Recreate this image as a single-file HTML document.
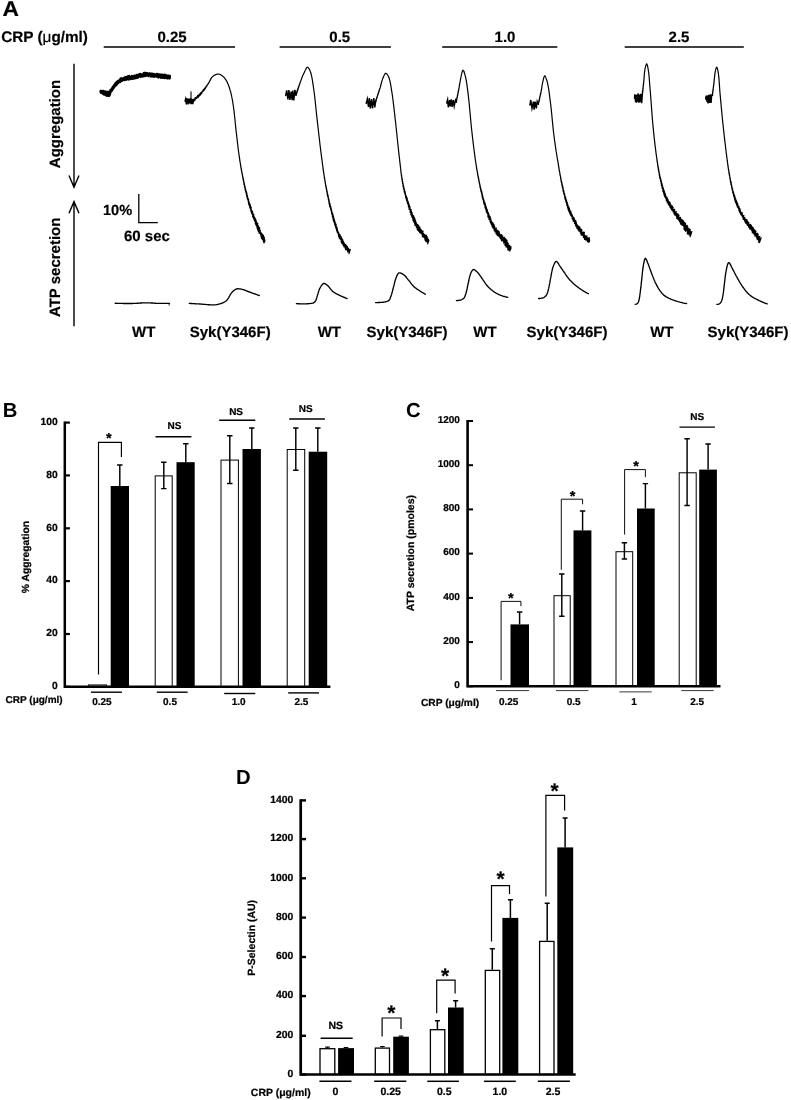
<!DOCTYPE html>
<html><head><meta charset="utf-8"><title>Figure</title>
<style>
html,body{margin:0;padding:0;background:#fff;}
svg{display:block;}
.sm text{stroke:#000;stroke-width:0.22px;}
.sm text.big{stroke:none;}
.pa text{stroke:#000;stroke-width:0.18px;}
text{font-family:"Liberation Sans",sans-serif;font-weight:bold;fill:#000;text-rendering:geometricPrecision;}
</style></head><body>
<svg width="791" height="1100" viewBox="0 0 791 1100">
<rect width="791" height="1100" fill="#fff"/>
<g id="panelA" class="pa">
<text class="big" transform="translate(2.6,16.2) scale(1.07,1)" font-size="21.3">A</text>
<text x="1.2" y="41.7" font-size="15.3" text-anchor="start" >CRP (<tspan font-weight="normal">μ</tspan>g/ml)</text>
<text x="172.0" y="41.7" font-size="15" text-anchor="middle" >0.25</text>
<line x1="103.7" y1="47.0" x2="235.0" y2="47.0" stroke="#000" stroke-width="1.4"/>
<text x="339.8" y="41.7" font-size="15" text-anchor="middle" >0.5</text>
<line x1="279.6" y1="47.0" x2="390.9" y2="47.0" stroke="#000" stroke-width="1.4"/>
<text x="505.0" y="41.7" font-size="15" text-anchor="middle" >1.0</text>
<line x1="442.2" y1="47.0" x2="557.3" y2="47.0" stroke="#000" stroke-width="1.4"/>
<text x="679.0" y="41.7" font-size="15" text-anchor="middle" >2.5</text>
<line x1="624.7" y1="47.0" x2="743.8" y2="47.0" stroke="#000" stroke-width="1.4"/>
<path d="M74,63.7 V187 M69,175.5 L74,187.3 L79,175.5" stroke="#000" stroke-width="1.4" fill="none"/>
<path d="M74,326.3 V202 M69,213.3 L74,201.6 L79,213.3" stroke="#000" stroke-width="1.4" fill="none"/>
<text transform="translate(59.8,124.0) rotate(-90)" font-size="15" text-anchor="middle" >Aggregation</text>
<text transform="translate(59.8,267.3) rotate(-90)" font-size="15" text-anchor="middle" >ATP secretion</text>
<text x="103.0" y="214.5" font-size="14.6" text-anchor="start" >10%</text>
<text x="124.0" y="240.9" font-size="15" text-anchor="start" >60 sec</text>
<path d="M138.8,194 V222.7 H157.8" stroke="#000" stroke-width="1.3" fill="none"/>
<text x="143.7" y="337.3" font-size="15" text-anchor="middle" >WT</text>
<text x="230.2" y="337.3" font-size="15" text-anchor="middle" >Syk(Y346F)</text>
<text x="329.3" y="337.3" font-size="15" text-anchor="middle" >WT</text>
<text x="407.0" y="337.3" font-size="15" text-anchor="middle" >Syk(Y346F)</text>
<text x="484.9" y="337.3" font-size="15" text-anchor="middle" >WT</text>
<text x="567.0" y="337.3" font-size="15" text-anchor="middle" >Syk(Y346F)</text>
<text x="661.8" y="337.3" font-size="15" text-anchor="middle" >WT</text>
<text x="748.0" y="337.3" font-size="15" text-anchor="middle" >Syk(Y346F)</text>
<g fill="none" stroke="#000" stroke-linejoin="round" stroke-linecap="round">
<path d="M100.1,92.1 L100.3,90.5 L100.4,92.5 L100.6,90.6 L100.7,93.2 L100.9,90.8 L101.1,92.9 L101.2,91.4 L101.4,92.8 L101.6,91.0 L101.7,93.4 L101.9,90.6 L102.0,93.2 L102.2,91.6 L102.4,93.2 L102.5,90.6 L102.7,93.3 L102.9,91.2 L103.0,94.4 L103.2,91.9 L103.3,94.1 L103.5,90.6 L103.7,93.7 L103.8,91.2 L104.0,94.9 L104.2,91.9 L104.3,94.5 L104.5,91.0 L104.7,94.9 L104.8,91.5 L105.0,94.3 L105.2,91.6 L105.3,94.7 L105.5,91.7 L105.7,94.9 L105.9,91.0 L106.0,95.9 L106.2,92.1 L106.4,95.7 L106.6,92.3 L106.7,95.6 L106.9,92.2 L107.1,96.2 L107.2,92.2 L107.4,95.8 L107.5,91.6 L107.7,95.8 L107.8,91.3 L108.0,95.4 L108.1,91.6 L108.2,95.9 L108.4,92.3 L108.5,96.3 L108.6,92.1 L108.7,95.8 L108.8,93.0 L109.0,95.0 L109.1,91.4 L109.2,95.7 L109.3,91.2 L109.4,96.3 L109.5,91.0 L109.6,94.2 L109.7,91.5 L109.8,95.0 L109.9,91.3 L110.0,95.5 L110.1,89.5 L110.2,94.9 L110.3,90.1 L110.4,94.5 L110.5,90.5 L110.6,93.0 L110.7,89.4 L110.8,92.9 L110.9,89.6 L111.0,91.6 L111.1,89.5 L111.2,91.6 L111.3,89.2 L111.4,91.0 L111.5,88.8 L111.6,91.2 L111.7,88.0 L111.8,91.4 L111.9,88.1 L112.0,90.6 L112.1,87.4 L112.2,91.0 L112.3,87.3 L112.4,90.6 L112.5,86.6 L112.6,89.2 L112.7,86.4 L112.8,89.2 L112.8,86.7 L112.9,89.7 L113.0,86.1 L113.1,88.5 L113.2,85.9 L113.3,88.1 L113.4,86.1 L113.5,88.9 L113.6,85.7 L113.7,88.3 L113.8,85.0 L113.9,88.4 L114.0,84.6 L114.1,86.9 L114.2,84.9 L114.3,87.3 L114.4,85.1 L114.5,87.1 L114.6,84.0 L114.7,87.3 L114.8,83.3 L114.9,86.0 L115.0,84.1 L115.1,86.5 L115.2,84.0 L115.3,85.6 L115.5,83.1 L115.6,85.3 L115.7,82.5 L115.8,86.0 L115.9,83.3 L116.0,85.3 L116.1,82.0 L116.3,85.7 L116.4,82.5 L116.5,84.3 L116.6,81.4 L116.7,85.1 L116.9,82.1 L117.0,84.2 L117.1,81.1 L117.2,84.6 L117.4,81.7 L117.5,84.1 L117.6,80.5 L117.7,83.7 L117.9,81.2 L118.0,82.7 L118.1,80.8 L118.3,83.6 L118.4,81.0 L118.5,82.2 L118.6,80.3 L118.8,82.1 L118.9,80.4 L119.0,81.8 L119.2,79.7 L119.3,82.6 L119.5,79.6 L119.6,81.6 L119.7,79.6 L119.9,82.1 L120.0,78.5 L120.2,82.5 L120.3,79.3 L120.5,80.8 L120.6,78.3 L120.8,82.0 L120.9,78.6 L121.1,81.6 L121.2,77.9 L121.4,81.2 L121.5,77.7 L121.7,80.2 L121.8,78.4 L122.0,80.4 L122.1,78.5 L122.3,81.2 L122.4,78.5 L122.6,80.7 L122.7,78.3 L122.9,80.2 L123.1,77.7 L123.2,79.8 L123.4,77.5 L123.5,80.2 L123.7,77.7 L123.9,80.4 L124.0,77.8 L124.2,79.6 L124.3,77.4 L124.5,79.7 L124.7,77.6 L124.8,80.5 L125.0,76.6 L125.2,79.2 L125.3,77.2 L125.5,79.3 L125.7,77.0 L125.8,79.3 L126.0,76.9 L126.2,80.2 L126.4,77.0 L126.5,79.7 L126.7,76.6 L126.9,79.8 L127.0,77.3 L127.2,79.8 L127.4,76.0 L127.5,79.5 L127.7,76.9 L127.9,79.5 L128.0,76.2 L128.2,79.5 L128.4,77.0 L128.5,79.9 L128.7,75.8 L128.9,79.0 L129.0,76.2 L129.2,78.4 L129.4,75.6 L129.5,79.5 L129.7,76.1 L129.9,79.4 L130.1,76.7 L130.2,78.7 L130.4,76.6 L130.6,79.1 L130.7,76.8 L130.9,79.5 L131.1,76.2 L131.2,78.8 L131.4,76.7 L131.6,79.1 L131.7,75.6 L131.9,79.0 L132.1,76.4 L132.3,79.2 L132.4,76.5 L132.6,79.2 L132.8,75.8 L132.9,78.3 L133.1,75.9 L133.3,78.8 L133.4,76.2 L133.6,79.1 L133.8,75.9 L133.9,79.1 L134.1,75.3 L134.3,77.9 L134.4,75.5 L134.6,78.1 L134.8,75.3 L134.9,78.4 L135.1,75.6 L135.3,78.8 L135.4,76.1 L135.6,78.3 L135.7,75.6 L135.9,77.4 L136.1,74.9 L136.2,78.1 L136.4,74.6 L136.6,78.0 L136.7,75.4 L136.9,78.5 L137.1,75.6 L137.2,77.1 L137.4,74.6 L137.5,77.4 L137.7,75.0 L137.9,78.1 L138.0,75.0 L138.2,78.0 L138.4,74.4 L138.5,77.1 L138.7,75.2 L138.9,76.9 L139.0,73.8 L139.2,77.0 L139.3,74.9 L139.5,76.8 L139.7,73.7 L139.8,76.5 L140.0,73.8 L140.2,76.4 L140.3,73.5 L140.5,76.9 L140.7,74.7 L140.8,77.4 L141.0,74.2 L141.2,77.0 L141.3,73.9 L141.5,76.0 L141.7,74.4 L141.8,76.0 L142.0,74.2 L142.2,75.8 L142.3,74.3 L142.5,77.0 L142.7,74.2 L142.8,76.3 L143.0,74.0 L143.2,75.8 L143.3,73.0 L143.5,76.7 L143.7,73.4 L143.8,75.3 L144.0,72.5 L144.2,75.3 L144.3,73.4 L144.5,76.0 L144.7,72.6 L144.8,76.4 L145.0,73.0 L145.2,75.7 L145.3,72.6 L145.5,76.4 L145.7,72.6 L145.8,76.2 L146.0,73.7 L146.2,75.6 L146.3,73.2 L146.5,75.9 L146.7,72.7 L146.8,75.5 L147.0,72.9 L147.2,75.7 L147.4,72.8 L147.5,75.5 L147.7,73.3 L147.9,75.4 L148.0,73.7 L148.2,76.6 L148.4,73.5 L148.5,76.6 L148.7,73.3 L148.9,75.4 L149.0,72.9 L149.2,75.4 L149.4,72.9 L149.6,75.4 L149.7,73.1 L149.9,75.7 L150.1,73.7 L150.2,76.8 L150.4,73.5 L150.6,76.5 L150.7,73.2 L150.9,75.7 L151.1,73.0 L151.3,76.9 L151.4,74.1 L151.6,76.4 L151.8,73.9 L151.9,76.7 L152.1,74.3 L152.3,76.4 L152.4,73.2 L152.6,76.8 L152.8,74.3 L152.9,77.0 L153.1,74.1 L153.3,77.0 L153.4,73.8 L153.6,76.0 L153.8,73.5 L154.0,77.0 L154.1,73.6 L154.3,77.3 L154.5,74.3 L154.6,76.3 L154.8,74.5 L155.0,76.8 L155.1,74.2 L155.3,76.6 L155.5,74.1 L155.6,76.5 L155.8,74.8 L156.0,76.8 L156.1,74.5 L156.3,76.8 L156.5,73.6 L156.6,76.5 L156.8,74.0 L157.0,77.2 L157.1,74.6 L157.3,77.0 L157.5,73.6 L157.7,76.9 L157.8,74.1 L158.0,77.6 L158.2,74.6 L158.3,77.9 L158.5,74.3 L158.7,77.2 L158.8,74.2 L159.0,77.1 L159.2,74.2 L159.3,77.0 L159.5,74.0 L159.7,77.4 L159.8,75.0 L160.0,77.3 L160.2,74.1 L160.3,77.9 L160.5,74.7 L160.7,77.3 L160.9,74.9 L161.0,78.2 L161.2,75.4 L161.4,78.1 L161.5,74.3 L161.7,77.2 L161.9,75.1 L162.0,77.7 L162.2,74.5 L162.4,78.3 L162.5,74.2 L162.7,77.4 L162.9,75.5 L163.0,77.7 L163.2,75.0 L163.4,78.0 L163.5,75.7 L163.7,78.0 L163.9,74.5 L164.1,78.5 L164.2,74.5 L164.4,78.5 L164.6,74.5 L164.7,77.3 L164.9,74.6 L165.1,77.6 L165.2,75.5 L165.4,78.0 L165.6,74.6 L165.7,78.2 L165.9,75.6 L166.1,77.9 L166.2,74.8 L166.4,78.6 L166.6,75.9 L166.8,77.8 L166.9,75.6 L167.1,77.8 L167.3,75.4 L167.4,77.8 L167.6,75.4 L167.8,78.9 L167.9,75.0 L168.1,77.7 L168.3,76.0 L168.4,78.2 L168.6,75.4 L168.8,78.2 L168.9,76.0 L169.1,78.1 L169.3,76.1 L169.5,78.9 L169.6,75.4 L169.8,78.3 L170.0,75.4 L170.1,78.5 L170.3,75.7" stroke-width="1.5"/>
<path d="M185.0,101.2 L185.6,99.1 L186.3,104.4 L186.7,98.0 L187.2,103.4 L187.4,98.9 L188.1,104.4 L188.5,98.5 L188.8,103.7 L189.5,98.6 L189.8,103.5 L190.4,98.4 L191.2,104.1 L191.6,98.5 L192.1,104.3 L192.3,99.1 L192.8,104.0 L193.5,100.3" stroke-width="1.4" stroke-linejoin="miter" stroke-miterlimit="6"/>
<path d="M193.6,100.7 L193.6,99.3 L194.2,100.8 L194.2,99.1 L194.8,100.7 L194.7,98.5 L195.2,99.7 L195.1,97.7 L195.6,98.8 L195.6,97.3 L196.2,98.5 L196.2,97.4 L196.8,98.4 L196.7,96.8 L197.2,97.5 L197.2,96.5 L197.7,97.3 L197.6,95.6 L198.3,97.3 L198.2,95.4 L198.8,96.8 L198.6,94.8 L199.2,95.9 L199.2,94.9 L199.7,95.6 L199.6,94.3 L200.0,94.7 L200.0,93.3 L200.6,94.9 L200.5,93.2 L201.0,94.1 L200.9,92.6 L201.5,93.8 L201.4,92.3 L201.9,93.0 L201.9,91.9 L202.2,92.3 L202.2,91.2 L202.6,91.7 L202.7,91.0 L203.1,91.3 L203.0,90.1 L203.5,90.7 L203.4,89.5 L203.9,90.4 L203.9,89.1 L204.4,89.9 L204.4,88.9 L204.7,89.0 L204.7,88.0 L205.2,88.8 L205.2,87.8 L205.5,88.2 L205.6,87.3 L205.8,87.3 L205.9,86.7 L206.2,86.8 L206.3,86.1 L206.7,86.5 L206.7,85.5 L207.0,85.6 L207.1,85.1 L207.4,85.0 L207.5,84.6 L207.8,84.6 L207.8,83.9 L208.1,84.0 L208.2,83.4 L208.5,83.4 L208.6,82.8 L208.9,82.8 L209.0,82.3 L209.2,82.2 L209.3,81.7 L209.5,81.5 L209.6,81.1 L209.9,81.0 L209.9,80.4 L210.2,80.3 L210.3,79.8 L210.5,79.6 L210.6,79.2 L210.8,79.0 L210.9,78.6 L211.2,78.4 L211.3,78.0 L211.5,77.9 L211.7,77.5 L211.9,77.3 L212.1,77.1 L212.3,76.8 L212.5,76.6 L212.7,76.4 L212.9,76.2 L213.2,76.1 L213.4,75.9 L213.7,75.7 L214.0,75.5 L214.3,75.3 L214.6,75.2 L214.9,75.0 L215.2,74.8 L215.6,74.7 L215.9,74.5 L216.2,74.4 L216.6,74.3 L216.9,74.2 L217.2,74.1 L217.5,74.1 L217.9,74.0 L218.2,74.0 L218.5,74.0 L218.8,74.1 L219.1,74.1 L219.4,74.2 L219.7,74.3 L220.1,74.5 L220.4,74.6 L220.7,74.8 L221.0,75.0 L221.3,75.2 L221.6,75.4 L221.9,75.6 L222.2,75.8 L222.5,76.0 L222.7,76.2 L223.0,76.4 L223.2,76.6 L223.4,76.8 L223.6,77.0 L223.9,77.2 L224.1,77.4 L224.3,77.7 L224.5,77.9 L224.7,78.2 L224.9,78.5 L225.1,78.8 L225.3,79.0 L225.5,79.3 L225.7,79.6 L225.9,79.9 L226.1,80.2 L226.3,80.5 L226.5,80.8 L226.6,81.1 L226.8,81.4 L227.0,81.7 L227.1,82.1 L227.3,82.4 L227.4,82.7 L227.6,83.0 L227.7,83.3 L227.8,83.6 L228.0,83.9 L228.1,84.2 L228.2,84.5 L228.3,84.8 L228.4,85.1 L228.6,85.4 L228.7,85.7 L228.8,86.0 L228.9,86.3 L229.0,86.6 L229.1,86.9 L229.2,87.3 L229.3,87.6 L229.4,87.9 L229.5,88.2 L229.6,88.5 L229.7,88.8 L229.8,89.2 L229.9,89.5 L230.0,89.8 L230.1,90.1 L230.2,90.5 L230.3,90.8 L230.4,91.1 L230.5,91.4 L230.6,91.8 L230.7,92.1 L230.8,92.4 L230.8,92.7 L230.9,93.1 L231.0,93.4 L231.1,93.7 L231.2,94.1 L231.2,94.4 L231.3,94.7 L231.4,95.1 L231.5,95.4 L231.5,95.7 L231.6,96.0 L231.7,96.4 L231.8,96.7 L231.8,97.0 L231.9,97.4 L232.0,97.7 L232.0,98.0 L232.1,98.4 L232.2,98.7 L232.2,99.0 L232.3,99.4 L232.3,99.7 L232.4,100.0 L232.5,100.3 L232.5,100.7 L232.6,101.0 L232.6,101.3 L232.7,101.6 L232.7,102.0 L232.8,102.3 L232.8,102.6 L232.9,103.0 L232.9,103.3 L233.0,103.6 L233.0,103.9 L233.1,104.3 L233.1,104.6 L233.2,104.9 L233.2,105.3 L233.3,105.6 L233.3,105.9 L233.4,106.2 L233.4,106.6 L233.5,106.9 L233.5,107.2 L233.6,107.6 L233.6,107.9 L233.6,108.2 L233.7,108.6 L233.7,108.9 L233.8,109.2 L233.8,109.6 L233.9,109.9 L233.9,110.2 L233.9,110.5 L234.0,110.9 L234.0,111.2 L234.1,111.5 L234.1,111.9 L234.1,112.2 L234.2,112.5 L234.2,112.9 L234.2,113.2 L234.3,113.5 L234.3,113.9 L234.4,114.2 L234.4,114.5 L234.4,114.9 L234.5,115.2 L234.5,115.5 L234.5,115.9 L234.6,116.2 L234.6,116.5 L234.6,116.9 L234.7,117.2 L234.7,117.5 L234.8,117.9 L234.8,118.2 L234.8,118.5 L234.9,118.9 L234.9,119.2 L234.9,119.5 L235.0,119.9 L235.0,120.2 L235.0,120.5 L235.1,120.9 L235.1,121.2 L235.1,121.5 L235.2,121.9 L235.2,122.2 L235.2,122.5 L235.3,122.9 L235.3,123.2 L235.3,123.5 L235.4,123.9 L235.4,124.2 L235.4,124.5 L235.5,124.9 L235.5,125.2 L235.5,125.5 L235.6,125.9 L235.6,126.2 L235.6,126.5 L235.7,126.9 L235.7,127.2 L235.7,127.5 L235.8,127.9 L235.8,128.2 L235.8,128.5 L235.9,128.9 L235.9,129.2 L236.0,129.5 L236.0,129.9 L236.0,130.2 L236.1,130.5 L236.1,130.9 L236.1,131.2 L236.2,131.5 L236.2,131.9 L236.3,132.2 L236.3,132.5 L236.3,132.9 L236.4,133.2 L236.4,133.5 L236.5,133.9 L236.5,134.2 L236.5,134.5 L236.6,134.9 L236.6,135.2 L236.7,135.5 L236.7,135.9 L236.7,136.2 L236.8,136.5 L236.8,136.9 L236.8,137.2 L236.9,137.5 L236.9,137.9 L237.0,138.2 L237.0,138.5 L237.0,138.8 L237.1,139.2 L237.1,139.5 L237.2,139.8 L237.2,140.2 L237.2,140.5 L237.3,140.8 L237.3,141.2 L237.3,141.5 L237.4,141.8 L237.4,142.2 L237.5,142.5 L237.5,142.8 L237.5,143.2 L237.6,143.5 L237.6,143.8 L237.7,144.2 L237.7,144.5 L237.7,144.9 L237.8,145.2 L237.8,145.5 L237.9,145.8 L237.9,146.2 L237.9,146.5 L238.0,146.9 L238.0,147.1 L238.0,147.5 L238.1,147.8 L238.1,148.2 L238.2,148.4 L238.2,148.8 L238.3,149.1 L238.3,149.5 L238.3,149.8 L238.4,150.2 L238.4,150.4 L238.4,150.8 L238.5,151.1 L238.5,151.5 L238.6,151.8 L238.6,152.2 L238.7,152.4 L238.7,152.8 L238.8,153.1 L238.8,153.5 L238.9,153.7 L238.9,154.2 L239.0,154.4 L239.0,154.9 L239.1,155.1 L239.1,155.5 L239.2,155.6 L239.2,156.2 L239.3,156.3 L239.3,156.8 L239.4,157.0 L239.3,157.6 L239.5,157.6 L239.5,158.1 L239.6,158.3 L239.5,158.9 L239.7,158.9 L239.6,159.5 L239.8,159.6 L239.7,160.2 L239.8,160.3 L239.8,160.9 L240.0,160.9 L239.9,161.5 L240.1,161.5 L240.1,162.1 L240.2,162.3 L240.2,162.8 L240.3,162.9 L240.3,163.4 L240.4,163.6 L240.4,164.1 L240.5,164.2 L240.5,164.8 L240.7,164.8 L240.5,165.6 L240.7,165.6 L240.7,166.2 L240.9,166.1 L240.8,166.9 L240.9,166.9 L240.9,167.6 L241.1,167.4 L241.0,168.3 L241.2,168.1 L241.1,168.9 L241.3,168.8 L241.3,169.4 L241.4,169.5 L241.3,170.2 L241.6,170.1 L241.4,170.9 L241.7,170.7 L241.6,171.4 L241.8,171.4 L241.7,172.3 L241.9,172.0 L241.9,172.8 L242.1,172.5 L241.9,173.5 L242.2,173.4 L242.1,174.2 L242.3,174.1 L242.2,174.8 L242.5,174.6 L242.3,175.6 L242.6,175.3 L242.5,176.1 L242.7,175.9 L242.6,176.8 L242.8,176.6 L242.7,177.4 L243.0,177.1 L242.9,178.1 L243.0,178.1 L242.9,178.9 L243.3,178.4 L243.1,179.4 L243.3,179.3 L243.2,180.2 L243.6,179.6 L243.4,180.7 L243.6,180.4 L243.5,181.4 L243.8,181.0 L243.6,182.1 L243.9,181.8 L243.7,182.9 L244.1,182.4 L243.9,183.3 L244.2,183.1 L243.9,184.4 L244.4,183.5 L244.1,184.8 L244.5,184.2 L244.4,185.3 L244.6,185.0 L244.4,186.3 L244.7,185.8 L244.5,187.1 L245.0,186.0 L244.7,187.6 L245.1,187.0 L244.9,187.9 L245.2,187.6 L245.0,188.9 L245.4,188.2 L245.1,189.6 L245.5,189.0 L245.2,190.3 L245.8,189.2 L245.4,190.9 L245.8,190.3 L245.7,191.2 L245.9,191.0 L245.9,191.8 L246.3,191.2 L245.9,192.7 L246.4,191.8 L246.2,193.2 L246.5,192.8 L246.2,194.3 L246.8,192.9 L246.5,194.4 L247.0,193.7 L246.6,195.4 L246.9,194.9 L246.7,196.1 L247.2,195.4 L247.0,196.6 L247.5,195.5 L247.0,197.5 L247.5,196.8 L247.2,198.2 L247.6,197.5 L247.3,199.0 L248.0,197.7 L247.6,199.4 L248.0,198.8 L247.9,199.6 L248.3,199.0 L248.0,200.5 L248.6,199.4 L248.2,201.1 L248.7,200.4 L248.4,201.6 L248.9,200.9 L248.4,203.0 L249.0,201.8 L248.6,203.5 L249.1,202.5 L248.7,204.3 L249.4,202.8 L249.2,204.2 L249.7,203.2 L249.1,205.6 L249.7,204.4 L249.6,205.5 L249.9,204.9 L249.6,206.5 L250.4,204.9 L249.7,207.6 L250.4,206.1 L250.2,207.3 L250.7,206.5 L250.2,208.6 L250.7,207.5 L250.4,209.2 L251.2,207.3 L250.7,209.4 L251.2,208.7 L250.7,210.8 L251.3,209.5 L251.1,210.7 L251.5,210.1 L251.1,212.0 L251.7,210.7 L251.6,211.9 L252.1,210.8 L251.5,213.3 L252.4,211.2 L251.9,213.6 L252.7,211.7 L252.2,213.9 L252.7,212.9 L252.3,214.8 L253.0,213.3 L252.6,215.2 L253.1,214.5 L252.5,216.8 L253.4,214.9 L252.9,216.9 L253.9,214.7 L253.2,217.2 L253.9,216.0 L253.4,218.2 L254.0,217.0 L253.8,218.1 L254.5,216.9 L253.9,219.2 L254.5,218.3 L254.2,219.7 L255.0,218.0 L254.3,221.0 L255.2,218.9 L254.7,220.9 L255.6,219.0 L255.0,221.5 L255.8,219.7 L255.3,222.1 L256.1,220.1 L255.2,223.6 L256.2,221.3 L255.7,223.7 L256.5,221.8 L255.8,224.7 L256.8,222.4 L256.1,225.4 L256.8,223.8 L256.5,225.6 L257.4,223.3 L256.7,226.3 L257.8,223.6 L256.9,227.0 L257.7,225.2 L257.0,228.2 L258.1,225.7 L257.4,228.3 L258.4,225.9 L257.6,229.4 L258.5,227.2 L257.8,230.1 L259.0,227.2 L258.3,229.9 L259.1,228.2 L258.3,231.5 L259.7,227.8 L258.8,231.4 L259.7,229.4 L258.8,232.8 L259.8,230.5 L259.6,231.8 L260.3,230.3 L259.6,233.4 L260.3,231.8 L260.1,233.3 L260.7,232.2 L260.3,234.0 L261.0,232.6 L260.7,234.4 L261.3,233.3 L260.8,235.5 L261.5,233.9 L260.9,236.8 L262.0,234.0 L261.6,236.2 L262.4,234.1 L261.4,238.1 L262.6,235.3 L262.2,237.2 L263.1,235.3 L262.1,239.3 L263.5,235.4 L262.4,239.8 L263.6,236.6 L262.9,239.7 L263.7,237.8 L263.4,239.8 L264.4,237.3 L263.4,241.4 L264.4,238.9 L263.9,241.1 L264.7,239.5 L263.8,243.0 L264.9,240.2 L264.6,242.1" stroke-width="1.2"/>
<path d="M285.7,95.4 L286.7,90.3 L287.9,99.4 L288.9,90.0 L289.9,100.0 L291.1,91.5 L292.1,100.2 L292.8,90.5 L293.8,100.4 L294.9,89.9 L296.0,95.0" stroke-width="1.45" stroke-linejoin="miter" stroke-miterlimit="6"/>
<path d="M296.1,95.4 L296.0,94.3 L296.2,94.5 L296.2,93.6 L296.5,94.0 L296.4,93.2 L296.8,93.7 L296.6,92.6 L296.9,92.6 L296.7,91.6 L297.1,92.2 L297.0,91.1 L297.4,91.7 L297.2,90.6 L297.5,90.7 L297.4,89.9 L297.7,90.1 L297.6,89.2 L298.0,89.8 L297.8,88.5 L298.2,89.1 L298.1,88.2 L298.3,88.2 L298.2,87.3 L298.6,87.7 L298.5,86.8 L298.8,87.0 L298.7,86.3 L298.9,86.3 L299.0,85.7 L299.2,85.8 L299.2,85.0 L299.4,85.2 L299.4,84.5 L299.6,84.5 L299.6,83.7 L299.8,83.6 L299.8,83.1 L300.1,83.1 L300.1,82.5 L300.3,82.5 L300.3,81.9 L300.5,81.8 L300.6,81.3 L300.7,81.2 L300.8,80.7 L300.9,80.5 L301.0,80.0 L301.2,79.8 L301.3,79.5 L301.4,79.2 L301.5,78.8 L301.6,78.6 L301.7,78.2 L301.9,77.9 L302.0,77.6 L302.1,77.3 L302.2,77.0 L302.4,76.7 L302.5,76.4 L302.6,76.1 L302.7,75.7 L302.9,75.4 L303.0,75.1 L303.1,74.8 L303.3,74.5 L303.4,74.2 L303.6,73.9 L303.7,73.6 L303.8,73.3 L304.0,73.0 L304.1,72.7 L304.3,72.4 L304.5,72.1 L304.6,71.7 L304.8,71.3 L305.0,70.9 L305.1,70.6 L305.3,70.2 L305.5,69.8 L305.7,69.5 L305.9,69.1 L306.0,68.8 L306.2,68.5 L306.4,68.2 L306.6,67.9 L306.8,67.7 L307.0,67.5 L307.1,67.4 L307.3,67.3 L307.5,67.2 L307.7,67.2 L307.9,67.3 L308.1,67.4 L308.2,67.6 L308.4,67.8 L308.6,68.0 L308.8,68.3 L309.0,68.6 L309.2,69.0 L309.4,69.4 L309.6,69.7 L309.8,70.1 L309.9,70.5 L310.1,70.9 L310.2,71.2 L310.4,71.6 L310.5,71.9 L310.6,72.2 L310.7,72.5 L310.8,72.8 L310.9,73.1 L310.9,73.4 L311.0,73.8 L311.1,74.1 L311.2,74.4 L311.3,74.7 L311.4,75.0 L311.4,75.3 L311.5,75.7 L311.6,76.0 L311.7,76.3 L311.7,76.7 L311.8,77.0 L311.9,77.3 L311.9,77.6 L312.0,78.0 L312.1,78.3 L312.1,78.6 L312.2,79.0 L312.2,79.3 L312.3,79.6 L312.4,80.0 L312.4,80.3 L312.5,80.6 L312.5,81.0 L312.6,81.3 L312.6,81.7 L312.7,82.0 L312.7,82.3 L312.8,82.7 L312.8,83.0 L312.9,83.3 L312.9,83.7 L313.0,84.0 L313.0,84.3 L313.1,84.7 L313.1,85.0 L313.2,85.3 L313.2,85.7 L313.3,86.0 L313.3,86.3 L313.4,86.6 L313.4,87.0 L313.5,87.3 L313.5,87.6 L313.6,88.0 L313.6,88.3 L313.7,88.6 L313.7,89.0 L313.8,89.3 L313.8,89.6 L313.9,89.9 L313.9,90.3 L313.9,90.6 L314.0,90.9 L314.0,91.3 L314.1,91.6 L314.1,91.9 L314.2,92.3 L314.2,92.6 L314.2,92.9 L314.3,93.3 L314.3,93.6 L314.4,93.9 L314.4,94.2 L314.4,94.6 L314.5,94.9 L314.5,95.2 L314.6,95.6 L314.6,95.9 L314.6,96.2 L314.7,96.6 L314.7,96.9 L314.7,97.2 L314.8,97.6 L314.8,97.9 L314.9,98.2 L314.9,98.6 L314.9,98.9 L315.0,99.2 L315.0,99.6 L315.0,99.9 L315.1,100.2 L315.1,100.6 L315.1,100.9 L315.2,101.2 L315.2,101.6 L315.3,101.9 L315.3,102.2 L315.3,102.6 L315.4,102.9 L315.4,103.2 L315.4,103.6 L315.5,103.9 L315.5,104.2 L315.5,104.5 L315.6,104.9 L315.6,105.2 L315.6,105.5 L315.7,105.9 L315.7,106.2 L315.7,106.5 L315.8,106.9 L315.8,107.2 L315.8,107.5 L315.9,107.9 L315.9,108.2 L315.9,108.5 L316.0,108.9 L316.0,109.2 L316.0,109.5 L316.1,109.9 L316.1,110.2 L316.2,110.5 L316.2,110.9 L316.2,111.2 L316.3,111.5 L316.3,111.9 L316.3,112.2 L316.4,112.5 L316.4,112.9 L316.4,113.2 L316.5,113.5 L316.5,113.9 L316.5,114.2 L316.6,114.5 L316.6,114.9 L316.6,115.2 L316.7,115.5 L316.7,115.9 L316.8,116.2 L316.8,116.5 L316.8,116.9 L316.9,117.2 L316.9,117.5 L316.9,117.8 L317.0,118.2 L317.0,118.5 L317.1,118.8 L317.1,119.2 L317.1,119.5 L317.2,119.8 L317.2,120.2 L317.3,120.5 L317.3,120.8 L317.3,121.2 L317.4,121.5 L317.4,121.8 L317.4,122.2 L317.5,122.5 L317.5,122.8 L317.6,123.2 L317.6,123.5 L317.6,123.8 L317.7,124.2 L317.7,124.5 L317.7,124.8 L317.8,125.2 L317.8,125.5 L317.9,125.8 L317.9,126.1 L317.9,126.5 L318.0,126.8 L318.0,127.1 L318.0,127.5 L318.1,127.8 L318.1,128.1 L318.2,128.5 L318.2,128.8 L318.2,129.1 L318.3,129.5 L318.3,129.8 L318.3,130.1 L318.4,130.5 L318.4,130.8 L318.5,131.1 L318.5,131.5 L318.5,131.8 L318.6,132.1 L318.6,132.5 L318.6,132.8 L318.7,133.1 L318.7,133.5 L318.8,133.8 L318.8,134.1 L318.8,134.4 L318.9,134.8 L318.9,135.1 L318.9,135.4 L319.0,135.8 L319.0,136.1 L319.1,136.4 L319.1,136.8 L319.1,137.1 L319.2,137.4 L319.2,137.8 L319.2,138.1 L319.3,138.4 L319.3,138.8 L319.4,139.1 L319.4,139.4 L319.4,139.8 L319.5,140.1 L319.5,140.4 L319.6,140.8 L319.6,141.1 L319.6,141.4 L319.7,141.8 L319.7,142.1 L319.7,142.4 L319.8,142.7 L319.8,143.1 L319.9,143.4 L319.9,143.7 L319.9,144.1 L320.0,144.4 L320.0,144.7 L320.1,145.1 L320.1,145.4 L320.1,145.7 L320.2,146.1 L320.2,146.4 L320.3,146.7 L320.3,147.1 L320.3,147.4 L320.4,147.7 L320.4,148.0 L320.5,148.4 L320.5,148.7 L320.6,149.1 L320.6,149.4 L320.6,149.7 L320.7,150.0 L320.7,150.4 L320.8,150.7 L320.8,151.0 L320.8,151.4 L320.9,151.7 L320.9,152.0 L321.0,152.4 L321.0,152.7 L321.1,153.0 L321.1,153.3 L321.1,153.7 L321.2,154.0 L321.2,154.4 L321.3,154.7 L321.3,155.0 L321.4,155.3 L321.4,155.7 L321.4,156.0 L321.5,156.4 L321.5,156.6 L321.6,157.0 L321.6,157.3 L321.6,157.7 L321.7,157.9 L321.7,158.4 L321.8,158.6 L321.8,159.0 L321.9,159.3 L321.9,159.7 L322.0,160.0 L322.0,160.4 L322.1,160.6 L322.1,161.0 L322.2,161.3 L322.1,161.7 L322.2,161.9 L322.2,162.3 L322.3,162.6 L322.3,163.0 L322.4,163.2 L322.4,163.8 L322.5,163.9 L322.5,164.4 L322.6,164.5 L322.6,165.1 L322.7,165.2 L322.7,165.7 L322.8,165.9 L322.8,166.3 L322.9,166.5 L322.8,167.0 L323.0,167.2 L322.9,167.8 L323.0,167.9 L323.0,168.4 L323.2,168.5 L323.1,169.0 L323.3,169.1 L323.2,169.7 L323.3,169.9 L323.3,170.4 L323.4,170.5 L323.4,171.1 L323.5,171.1 L323.5,171.8 L323.7,171.7 L323.6,172.4 L323.7,172.5 L323.7,173.1 L323.8,173.1 L323.8,173.8 L323.9,173.7 L323.9,174.4 L324.0,174.5 L324.0,175.1 L324.1,175.0 L324.1,175.8 L324.2,175.8 L324.2,176.3 L324.3,176.3 L324.2,177.1 L324.4,177.1 L324.3,177.8 L324.6,177.5 L324.5,178.3 L324.7,178.3 L324.6,179.0 L324.7,179.1 L324.7,179.6 L324.9,179.7 L324.8,180.2 L325.0,180.2 L324.9,181.0 L325.1,181.0 L325.0,181.8 L325.3,181.4 L325.1,182.4 L325.3,182.3 L325.2,183.1 L325.4,182.9 L325.3,183.8 L325.5,183.6 L325.5,184.2 L325.6,184.3 L325.6,184.9 L325.7,185.0 L325.6,185.9 L325.9,185.4 L325.8,186.4 L326.1,185.9 L325.9,187.1 L326.2,186.7 L326.1,187.6 L326.2,187.5 L326.1,188.4 L326.5,187.9 L326.3,188.9 L326.5,188.7 L326.4,189.6 L326.6,189.5 L326.5,190.4 L326.9,189.8 L326.6,191.2 L326.9,190.6 L326.8,191.5 L327.0,191.4 L326.9,192.4 L327.3,191.7 L327.1,192.8 L327.4,192.4 L327.1,193.9 L327.4,193.5 L327.2,194.5 L327.6,193.8 L327.4,195.2 L327.8,194.4 L327.5,195.8 L328.0,195.0 L327.6,196.5 L328.0,195.9 L327.9,196.9 L328.3,196.2 L328.0,197.5 L328.3,197.2 L328.2,198.1 L328.5,197.9 L328.2,199.0 L328.6,198.6 L328.4,199.6 L328.8,199.0 L328.6,200.2 L329.0,199.5 L328.7,201.0 L329.1,200.5 L328.8,201.8 L329.3,200.9 L329.0,202.2 L329.3,201.8 L329.0,203.3 L329.5,202.5 L329.3,203.5 L329.7,202.8 L329.3,204.6 L329.8,203.7 L329.7,204.6 L330.1,204.0 L329.6,205.9 L330.2,204.9 L329.8,206.6 L330.3,205.6 L330.0,207.2 L330.4,206.5 L330.2,207.7 L330.8,206.5 L330.4,208.0 L330.9,207.1 L330.5,208.9 L331.0,208.2 L330.8,209.2 L331.2,208.5 L330.9,210.1 L331.4,209.3 L331.1,210.6 L331.4,210.3 L331.3,211.2 L331.7,210.4 L331.5,211.8 L331.8,211.4 L331.5,212.9 L332.0,212.0 L331.7,213.4 L332.2,212.5 L331.8,214.4 L332.4,213.2 L332.1,214.6 L332.7,213.3 L332.3,215.1 L332.8,214.3 L332.3,216.2 L332.9,215.2 L332.4,217.0 L333.2,215.4 L332.7,217.4 L333.2,216.5 L333.0,217.7 L333.6,216.6 L332.9,219.2 L333.6,217.8 L333.3,219.2 L333.9,218.1 L333.3,220.3 L334.1,218.5 L333.5,221.0 L334.3,219.3 L333.7,221.5 L334.2,220.6 L334.0,222.0 L334.7,220.5 L334.2,222.5 L334.7,221.6 L334.4,223.2 L335.0,222.0 L334.7,223.4 L335.3,222.4 L334.7,224.9 L335.3,223.6 L335.0,225.0 L335.5,224.3 L335.2,225.8 L336.0,224.0 L335.4,226.4 L336.2,224.6 L335.7,226.8 L336.1,226.1 L335.7,227.9 L336.3,226.8 L336.1,228.0 L336.7,226.8 L336.2,229.0 L337.0,227.4 L336.5,229.5 L337.0,228.5 L336.5,230.9 L337.4,228.8 L337.0,230.6 L337.5,229.6 L337.2,231.2 L337.6,230.6 L337.3,232.4 L337.9,231.2 L337.7,232.6 L338.1,231.9 L337.9,233.1 L338.5,232.0 L338.2,233.8 L338.7,232.7 L338.3,234.8 L338.9,233.5 L338.7,235.0 L339.2,234.2 L338.6,236.7 L339.5,234.5 L339.1,236.7 L340.0,234.5 L339.2,237.8 L340.2,235.2 L339.4,238.5 L340.4,236.0 L340.0,238.1 L340.8,236.5 L340.2,239.1 L341.2,236.8 L340.6,239.4 L341.4,237.6 L341.0,239.7 L341.6,238.6 L341.1,240.8 L341.7,239.7 L341.2,242.2 L342.4,239.1 L341.8,241.9 L342.7,239.9 L341.8,243.5 L343.0,240.7 L342.4,243.3 L343.3,241.1 L342.7,243.9 L343.6,241.8 L343.0,244.9 L343.8,242.8 L343.3,245.5 L344.3,243.0 L343.7,246.0 L344.6,243.9 L344.0,246.8 L344.8,244.7 L344.5,246.9 L345.4,244.6 L345.1,246.7 L345.9,244.7 L345.2,248.2 L345.9,246.4 L345.4,249.2 L346.6,245.8 L345.8,249.9 L347.0,246.4 L346.4,249.7 L347.5,246.7 L346.9,249.9 L347.8,247.8 L347.4,250.4 L348.2,248.5 L347.6,252.0 L348.7,248.6 L348.3,251.7 L349.1,249.4 L348.8,251.9 L349.5,250.1 L349.0,253.6 L350.3,249.6" stroke-width="1.2"/>
<path d="M366.2,103.4 L367.3,99.0 L368.5,107.0 L369.3,98.1 L370.3,108.5 L371.5,99.0 L372.5,108.3 L373.8,98.2 L374.8,107.3 L375.7,101.0" stroke-width="1.45" stroke-linejoin="miter" stroke-miterlimit="6"/>
<path d="M375.9,101.5 L375.7,100.5 L376.0,100.5 L375.9,99.6 L376.3,100.2 L376.2,99.3 L376.5,99.4 L376.4,98.5 L376.7,98.8 L376.6,97.9 L376.9,98.1 L376.8,97.2 L377.1,97.5 L377.1,96.8 L377.3,96.7 L377.3,96.1 L377.5,96.3 L377.5,95.4 L377.7,95.6 L377.6,94.6 L377.9,94.8 L377.9,94.2 L378.1,94.2 L378.1,93.4 L378.4,93.7 L378.3,93.0 L378.5,92.9 L378.5,92.3 L378.8,92.4 L378.7,91.7 L379.0,91.8 L378.9,90.9 L379.2,91.1 L379.1,90.4 L379.3,90.3 L379.3,89.7 L379.6,89.8 L379.5,89.0 L379.7,89.1 L379.8,88.5 L380.0,88.5 L380.0,87.9 L380.1,87.8 L380.2,87.3 L380.3,87.2 L380.4,86.6 L380.5,86.5 L380.5,85.9 L380.7,85.9 L380.7,85.3 L380.9,85.2 L380.9,84.7 L381.0,84.5 L381.0,84.0 L381.2,83.9 L381.2,83.4 L381.4,83.2 L381.4,82.7 L381.5,82.6 L381.6,82.1 L381.7,81.9 L381.8,81.5 L381.9,81.3 L382.0,80.9 L382.1,80.6 L382.2,80.2 L382.3,79.9 L382.4,79.6 L382.5,79.3 L382.6,79.0 L382.7,78.7 L382.8,78.4 L383.0,78.1 L383.1,77.8 L383.2,77.4 L383.4,77.1 L383.5,76.7 L383.7,76.3 L383.9,75.9 L384.0,75.6 L384.2,75.2 L384.4,74.8 L384.6,74.5 L384.7,74.2 L384.9,73.9 L385.1,73.7 L385.3,73.5 L385.5,73.4 L385.7,73.3 L385.9,73.3 L386.1,73.4 L386.3,73.5 L386.5,73.7 L386.7,73.9 L387.0,74.1 L387.2,74.4 L387.5,74.7 L387.7,75.1 L387.9,75.4 L388.1,75.8 L388.3,76.1 L388.5,76.5 L388.6,76.8 L388.7,77.1 L388.8,77.4 L389.0,77.7 L389.1,78.0 L389.2,78.3 L389.3,78.6 L389.4,78.9 L389.4,79.2 L389.5,79.5 L389.6,79.8 L389.7,80.1 L389.8,80.4 L389.9,80.8 L389.9,81.1 L390.0,81.4 L390.1,81.7 L390.2,82.1 L390.2,82.4 L390.3,82.7 L390.4,83.1 L390.4,83.4 L390.5,83.7 L390.6,84.1 L390.6,84.4 L390.7,84.7 L390.7,85.1 L390.8,85.4 L390.9,85.8 L390.9,86.1 L391.0,86.4 L391.0,86.8 L391.1,87.1 L391.1,87.5 L391.2,87.8 L391.2,88.1 L391.3,88.5 L391.3,88.8 L391.4,89.1 L391.4,89.5 L391.5,89.8 L391.5,90.1 L391.6,90.5 L391.6,90.8 L391.7,91.1 L391.8,91.5 L391.8,91.8 L391.9,92.1 L391.9,92.4 L392.0,92.8 L392.0,93.1 L392.1,93.4 L392.1,93.8 L392.2,94.1 L392.2,94.4 L392.3,94.8 L392.3,95.1 L392.4,95.4 L392.4,95.7 L392.5,96.1 L392.5,96.4 L392.5,96.7 L392.6,97.1 L392.6,97.4 L392.7,97.7 L392.7,98.1 L392.8,98.4 L392.8,98.7 L392.9,99.1 L392.9,99.4 L392.9,99.7 L393.0,100.0 L393.0,100.4 L393.1,100.7 L393.1,101.0 L393.2,101.4 L393.2,101.7 L393.2,102.0 L393.3,102.4 L393.3,102.7 L393.4,103.0 L393.4,103.4 L393.4,103.7 L393.5,104.0 L393.5,104.4 L393.6,104.7 L393.6,105.0 L393.6,105.4 L393.7,105.7 L393.7,106.0 L393.8,106.3 L393.8,106.7 L393.8,107.0 L393.9,107.3 L393.9,107.7 L394.0,108.0 L394.0,108.3 L394.0,108.7 L394.1,109.0 L394.1,109.3 L394.1,109.7 L394.2,110.0 L394.2,110.3 L394.3,110.7 L394.3,111.0 L394.3,111.3 L394.4,111.7 L394.4,112.0 L394.4,112.3 L394.5,112.7 L394.5,113.0 L394.6,113.3 L394.6,113.7 L394.6,114.0 L394.7,114.3 L394.7,114.7 L394.7,115.0 L394.8,115.3 L394.8,115.6 L394.9,116.0 L394.9,116.3 L394.9,116.6 L395.0,117.0 L395.0,117.3 L395.0,117.6 L395.1,118.0 L395.1,118.3 L395.2,118.6 L395.2,119.0 L395.2,119.3 L395.3,119.6 L395.3,120.0 L395.3,120.3 L395.4,120.6 L395.4,121.0 L395.5,121.3 L395.5,121.6 L395.5,122.0 L395.6,122.3 L395.6,122.6 L395.6,123.0 L395.7,123.3 L395.7,123.6 L395.8,123.9 L395.8,124.3 L395.8,124.6 L395.9,124.9 L395.9,125.3 L395.9,125.6 L396.0,125.9 L396.0,126.3 L396.0,126.6 L396.1,126.9 L396.1,127.3 L396.2,127.6 L396.2,127.9 L396.2,128.3 L396.3,128.6 L396.3,128.9 L396.3,129.3 L396.4,129.6 L396.4,129.9 L396.4,130.3 L396.5,130.6 L396.5,130.9 L396.5,131.3 L396.6,131.6 L396.6,131.9 L396.6,132.2 L396.7,132.6 L396.7,132.9 L396.8,133.2 L396.8,133.6 L396.8,133.9 L396.9,134.2 L396.9,134.6 L396.9,134.9 L397.0,135.2 L397.0,135.6 L397.0,135.9 L397.1,136.2 L397.1,136.6 L397.1,136.9 L397.2,137.2 L397.2,137.6 L397.2,137.9 L397.3,138.2 L397.3,138.6 L397.3,138.9 L397.4,139.2 L397.4,139.6 L397.4,139.9 L397.5,140.2 L397.5,140.6 L397.5,140.9 L397.6,141.2 L397.6,141.5 L397.6,141.9 L397.7,142.2 L397.7,142.5 L397.7,142.9 L397.8,143.2 L397.8,143.5 L397.8,143.9 L397.9,144.2 L397.9,144.5 L398.0,144.9 L398.0,145.2 L398.0,145.5 L398.1,145.9 L398.1,146.2 L398.1,146.5 L398.2,146.9 L398.2,147.2 L398.2,147.5 L398.3,147.9 L398.3,148.2 L398.3,148.5 L398.4,148.9 L398.4,149.2 L398.4,149.5 L398.5,149.8 L398.5,150.2 L398.6,150.5 L398.6,150.9 L398.6,151.2 L398.7,151.5 L398.7,151.8 L398.7,152.2 L398.8,152.5 L398.8,152.9 L398.9,153.1 L398.9,153.5 L398.9,153.8 L398.9,154.2 L399.0,154.5 L399.0,154.9 L399.1,155.1 L399.1,155.6 L399.2,155.8 L399.2,156.2 L399.2,156.5 L399.2,156.9 L399.3,157.1 L399.3,157.5 L399.4,157.8 L399.4,158.2 L399.5,158.4 L399.5,158.9 L399.6,159.1 L399.6,159.5 L399.6,159.7 L399.6,160.3 L399.7,160.3 L399.7,161.0 L399.8,161.1 L399.8,161.6 L399.9,161.8 L399.8,162.3 L400.0,162.3 L399.9,162.9 L400.1,162.9 L400.0,163.6 L400.1,163.7 L400.1,164.2 L400.2,164.3 L400.1,164.9 L400.3,165.0 L400.2,165.6 L400.4,165.6 L400.3,166.2 L400.4,166.3 L400.4,166.9 L400.5,167.0 L400.5,167.5 L400.6,167.6 L400.5,168.4 L400.6,168.3 L400.6,168.9 L400.7,168.9 L400.7,169.5 L400.8,169.6 L400.7,170.3 L400.9,170.4 L400.8,171.1 L401.0,170.9 L400.9,171.7 L401.0,171.7 L400.9,172.5 L401.1,172.3 L401.0,173.0 L401.2,173.0 L401.2,173.6 L401.3,173.6 L401.2,174.3 L401.4,174.3 L401.3,175.0 L401.5,174.8 L401.4,175.6 L401.7,175.4 L401.5,176.2 L401.7,176.1 L401.5,177.2 L401.8,176.7 L401.7,177.5 L401.9,177.6 L401.8,178.2 L402.0,178.2 L401.8,179.1 L402.2,178.5 L402.0,179.6 L402.3,179.2 L402.1,180.3 L402.4,179.8 L402.2,181.0 L402.4,180.8 L402.3,181.6 L402.5,181.5 L402.4,182.2 L402.8,181.7 L402.4,183.1 L402.7,182.8 L402.6,183.8 L402.9,183.2 L402.8,184.1 L403.2,183.6 L402.9,184.9 L403.2,184.5 L403.0,185.6 L403.3,185.2 L403.0,186.6 L403.5,185.6 L403.3,186.9 L403.7,186.3 L403.4,187.7 L403.7,187.2 L403.5,188.4 L403.9,187.9 L403.6,189.2 L404.1,188.5 L403.9,189.4 L404.3,188.7 L404.1,190.1 L404.5,189.5 L404.1,191.2 L404.6,190.1 L404.2,192.0 L404.7,191.1 L404.5,192.2 L405.0,191.4 L404.7,192.7 L405.2,191.8 L404.8,193.8 L405.3,192.7 L405.0,194.4 L405.5,193.4 L405.2,194.7 L405.6,194.4 L405.4,195.4 L405.7,195.1 L405.5,196.4 L405.9,195.6 L405.6,197.3 L406.1,196.3 L405.9,197.4 L406.5,196.3 L406.0,198.3 L406.6,197.3 L406.2,199.1 L406.8,197.9 L406.6,199.2 L407.2,198.0 L406.5,200.6 L407.3,198.9 L406.9,200.6 L407.4,199.7 L407.2,201.1 L407.5,200.8 L407.1,202.6 L407.8,201.1 L407.5,202.5 L408.1,201.3 L407.6,203.5 L408.3,202.1 L408.0,203.7 L408.4,202.9 L408.0,204.7 L408.6,203.7 L408.3,205.1 L409.0,203.7 L408.3,206.3 L409.1,204.6 L408.7,206.5 L409.3,205.2 L408.8,207.3 L409.3,206.5 L409.0,208.2 L409.8,206.4 L409.0,209.2 L410.0,206.8 L409.6,208.8 L410.1,208.0 L409.8,209.4 L410.2,209.0 L409.9,210.6 L410.4,209.4 L410.2,210.7 L410.8,209.5 L410.1,212.5 L411.2,209.9 L410.7,212.0 L411.2,211.2 L410.9,212.6 L411.4,211.6 L410.7,214.5 L411.6,212.6 L411.0,214.8 L411.9,212.8 L411.4,215.2 L412.3,212.9 L411.7,215.5 L412.3,214.2 L411.7,216.8 L412.5,215.1 L412.3,216.5 L412.9,215.3 L412.4,217.6 L413.1,216.1 L412.7,218.0 L413.6,215.9 L412.8,218.9 L413.6,217.3 L412.9,220.1 L414.1,217.1 L413.2,220.6 L414.4,217.5 L413.8,220.3 L414.4,218.9 L413.7,222.1 L415.0,218.7 L414.3,221.7 L415.1,219.6 L414.5,222.3 L415.2,220.8 L414.5,223.8 L415.7,220.7 L415.2,223.3 L415.7,222.2 L415.0,225.4 L416.2,222.2 L415.5,225.4 L416.3,223.3 L415.8,225.8 L416.6,223.9 L416.3,225.8 L417.0,224.4 L416.4,227.1 L417.4,224.5 L416.7,227.7 L417.7,225.4 L417.1,228.1 L418.3,225.0 L417.2,229.6 L418.7,225.5 L418.0,228.9 L418.9,226.5 L418.0,230.5 L419.1,227.6 L418.6,230.5 L419.8,227.1 L418.8,231.5 L420.1,227.9 L419.6,230.8 L420.1,229.8 L419.6,232.6 L420.8,229.3 L420.3,232.1 L420.9,231.0 L420.7,232.8 L421.7,230.2 L421.0,233.6 L422.1,230.7 L421.5,233.7 L422.5,231.2 L421.9,234.2 L423.1,231.2 L422.3,235.0 L422.9,233.6 L422.3,236.8 L423.5,233.5 L423.0,236.5 L423.8,234.4 L423.5,236.6 L424.4,234.3 L423.8,237.3 L424.9,234.6 L424.2,237.8 L425.2,235.3 L424.8,237.8 L425.7,235.6 L424.9,239.6 L426.4,235.2 L425.2,240.5 L426.2,237.6 L425.8,240.2 L427.1,236.5 L426.0,241.6 L427.1,238.7 L426.9,240.4 L427.8,238.1 L427.1,242.0 L428.0,239.5 L427.6,242.0 L428.6,239.5 L427.7,243.9 L428.9,240.2" stroke-width="1.2"/>
<path d="M446.7,103.0 L447.6,99.8 L448.3,107.3 L449.6,100.1 L450.2,106.5 L451.3,99.3 L452.1,106.8 L453.2,100.1 L454.2,106.2 L455.4,100.1 L456.2,102.0" stroke-width="1.45" stroke-linejoin="miter" stroke-miterlimit="6"/>
<path d="M456.3,102.4 L456.1,101.2 L456.4,101.6 L456.4,100.9 L456.6,101.1 L456.5,100.2 L456.7,100.2 L456.6,99.6 L456.8,99.6 L456.7,98.7 L457.0,99.1 L456.8,98.1 L457.1,98.2 L456.9,97.4 L457.2,97.5 L457.2,96.9 L457.3,96.9 L457.2,96.1 L457.5,96.3 L457.4,95.4 L457.6,95.7 L457.5,94.9 L457.8,95.1 L457.7,94.3 L457.9,94.3 L457.8,93.5 L458.0,93.7 L457.9,93.0 L458.1,93.1 L458.0,92.2 L458.3,92.4 L458.2,91.7 L458.4,91.7 L458.3,91.1 L458.5,91.0 L458.4,90.3 L458.7,90.5 L458.6,89.8 L458.7,89.7 L458.7,89.1 L458.9,89.0 L458.9,88.5 L459.0,88.3 L459.0,87.8 L459.1,87.7 L459.1,87.1 L459.2,87.0 L459.2,86.4 L459.3,86.3 L459.3,85.8 L459.5,85.7 L459.4,85.1 L459.6,85.0 L459.6,84.5 L459.7,84.4 L459.7,83.9 L459.8,83.7 L459.8,83.2 L459.9,83.0 L459.9,82.5 L460.0,82.4 L460.0,81.9 L460.1,81.7 L460.1,81.2 L460.2,81.0 L460.3,80.6 L460.3,80.3 L460.4,79.9 L460.5,79.7 L460.5,79.3 L460.6,79.0 L460.6,78.6 L460.7,78.4 L460.7,78.0 L460.8,77.7 L460.9,77.3 L461.0,77.1 L461.0,76.7 L461.1,76.4 L461.2,76.1 L461.3,75.7 L461.3,75.4 L461.4,75.0 L461.5,74.6 L461.6,74.2 L461.7,73.7 L461.8,73.3 L461.9,72.9 L462.0,72.5 L462.1,72.1 L462.2,71.7 L462.3,71.4 L462.4,71.1 L462.5,70.8 L462.6,70.6 L462.7,70.4 L462.8,70.3 L463.0,70.2 L463.1,70.2 L463.2,70.3 L463.3,70.4 L463.4,70.6 L463.6,70.8 L463.7,71.1 L463.8,71.4 L464.0,71.7 L464.1,72.1 L464.3,72.5 L464.4,72.9 L464.5,73.3 L464.7,73.7 L464.8,74.1 L464.9,74.5 L465.0,74.9 L465.1,75.3 L465.2,75.6 L465.3,76.0 L465.4,76.3 L465.4,76.6 L465.5,76.9 L465.6,77.3 L465.7,77.6 L465.7,77.9 L465.8,78.2 L465.9,78.6 L465.9,78.9 L466.0,79.2 L466.1,79.5 L466.1,79.9 L466.2,80.2 L466.3,80.5 L466.3,80.8 L466.4,81.2 L466.4,81.5 L466.5,81.8 L466.5,82.2 L466.6,82.5 L466.6,82.8 L466.7,83.2 L466.7,83.5 L466.8,83.8 L466.8,84.1 L466.9,84.5 L466.9,84.8 L467.0,85.1 L467.0,85.5 L467.1,85.8 L467.1,86.1 L467.2,86.5 L467.2,86.8 L467.3,87.1 L467.3,87.5 L467.3,87.8 L467.4,88.1 L467.4,88.5 L467.5,88.8 L467.5,89.2 L467.6,89.5 L467.6,89.8 L467.6,90.2 L467.7,90.5 L467.7,90.8 L467.8,91.2 L467.8,91.5 L467.9,91.8 L467.9,92.1 L467.9,92.5 L468.0,92.8 L468.0,93.1 L468.1,93.5 L468.1,93.8 L468.1,94.1 L468.2,94.5 L468.2,94.8 L468.3,95.1 L468.3,95.5 L468.3,95.8 L468.4,96.1 L468.4,96.5 L468.5,96.8 L468.5,97.1 L468.5,97.5 L468.6,97.8 L468.6,98.1 L468.6,98.4 L468.7,98.8 L468.7,99.1 L468.8,99.4 L468.8,99.8 L468.8,100.1 L468.9,100.4 L468.9,100.8 L468.9,101.1 L469.0,101.4 L469.0,101.8 L469.0,102.1 L469.1,102.4 L469.1,102.8 L469.1,103.1 L469.2,103.4 L469.2,103.8 L469.2,104.1 L469.3,104.4 L469.3,104.8 L469.3,105.1 L469.4,105.4 L469.4,105.8 L469.4,106.1 L469.5,106.4 L469.5,106.8 L469.5,107.1 L469.5,107.4 L469.6,107.8 L469.6,108.1 L469.6,108.4 L469.7,108.8 L469.7,109.1 L469.7,109.4 L469.8,109.8 L469.8,110.1 L469.8,110.4 L469.9,110.8 L469.9,111.1 L469.9,111.4 L469.9,111.8 L470.0,112.1 L470.0,112.4 L470.0,112.8 L470.1,113.1 L470.1,113.4 L470.1,113.8 L470.2,114.1 L470.2,114.4 L470.2,114.8 L470.2,115.1 L470.3,115.4 L470.3,115.8 L470.3,116.1 L470.4,116.4 L470.4,116.7 L470.4,117.1 L470.5,117.4 L470.5,117.7 L470.5,118.1 L470.5,118.4 L470.6,118.7 L470.6,119.1 L470.6,119.4 L470.7,119.7 L470.7,120.1 L470.7,120.4 L470.8,120.7 L470.8,121.1 L470.8,121.4 L470.9,121.7 L470.9,122.1 L470.9,122.4 L471.0,122.7 L471.0,123.1 L471.0,123.4 L471.0,123.7 L471.1,124.1 L471.1,124.4 L471.1,124.7 L471.2,125.1 L471.2,125.4 L471.2,125.7 L471.3,126.1 L471.3,126.4 L471.3,126.7 L471.4,127.1 L471.4,127.4 L471.4,127.7 L471.5,128.1 L471.5,128.4 L471.6,128.7 L471.6,129.1 L471.6,129.4 L471.7,129.7 L471.7,130.1 L471.7,130.4 L471.8,130.7 L471.8,131.1 L471.8,131.4 L471.9,131.7 L471.9,132.1 L472.0,132.4 L472.0,132.7 L472.0,133.0 L472.1,133.4 L472.1,133.7 L472.1,134.0 L472.2,134.4 L472.2,134.7 L472.3,135.0 L472.3,135.4 L472.3,135.7 L472.4,136.0 L472.4,136.4 L472.4,136.7 L472.5,137.0 L472.5,137.4 L472.6,137.7 L472.6,138.0 L472.6,138.4 L472.7,138.7 L472.7,139.0 L472.8,139.4 L472.8,139.7 L472.8,140.0 L472.9,140.4 L472.9,140.7 L472.9,141.0 L473.0,141.3 L473.0,141.7 L473.1,142.0 L473.1,142.3 L473.1,142.7 L473.2,143.0 L473.2,143.3 L473.3,143.7 L473.3,144.0 L473.3,144.3 L473.4,144.7 L473.4,145.0 L473.5,145.3 L473.5,145.7 L473.5,146.0 L473.6,146.3 L473.6,146.7 L473.7,147.0 L473.7,147.3 L473.8,147.7 L473.8,148.0 L473.8,148.3 L473.9,148.7 L473.9,149.0 L474.0,149.3 L474.0,149.7 L474.0,150.0 L474.1,150.3 L474.1,150.6 L474.2,151.0 L474.2,151.3 L474.3,151.6 L474.3,152.0 L474.3,152.3 L474.4,152.6 L474.4,153.0 L474.5,153.3 L474.5,153.7 L474.6,153.9 L474.6,154.3 L474.7,154.6 L474.7,155.0 L474.8,155.3 L474.8,155.7 L474.8,155.9 L474.9,156.3 L474.9,156.6 L475.0,157.0 L475.0,157.2 L475.0,157.7 L475.1,157.9 L475.1,158.3 L475.2,158.5 L475.2,159.0 L475.3,159.2 L475.3,159.6 L475.4,159.8 L475.4,160.3 L475.5,160.5 L475.5,161.0 L475.6,161.1 L475.6,161.7 L475.7,161.8 L475.7,162.3 L475.8,162.4 L475.8,163.0 L475.9,163.1 L475.9,163.6 L476.0,163.8 L476.0,164.3 L476.1,164.4 L476.1,165.0 L476.3,165.0 L476.2,165.7 L476.3,165.7 L476.3,166.3 L476.5,166.3 L476.4,166.9 L476.5,167.1 L476.5,167.6 L476.7,167.7 L476.6,168.4 L476.7,168.5 L476.7,168.9 L476.9,169.1 L476.8,169.7 L477.0,169.7 L477.0,170.2 L477.1,170.3 L477.1,170.9 L477.2,171.0 L477.1,171.7 L477.3,171.6 L477.3,172.3 L477.5,172.3 L477.4,172.9 L477.6,172.8 L477.5,173.5 L477.7,173.6 L477.6,174.5 L477.8,174.3 L477.7,174.9 L478.0,174.8 L477.8,175.6 L478.0,175.6 L477.9,176.3 L478.2,176.1 L478.1,177.0 L478.3,176.9 L478.2,177.7 L478.5,177.3 L478.4,178.2 L478.6,178.1 L478.4,179.0 L478.7,178.7 L478.6,179.5 L478.8,179.5 L478.7,180.2 L479.0,179.9 L478.8,180.9 L479.1,180.8 L478.9,181.7 L479.2,181.5 L479.1,182.2 L479.4,182.0 L479.2,182.9 L479.5,182.6 L479.3,183.7 L479.6,183.4 L479.5,184.1 L479.8,183.8 L479.6,184.9 L479.9,184.7 L479.8,185.4 L480.1,185.2 L479.8,186.5 L480.2,186.0 L480.0,187.2 L480.3,186.7 L480.2,187.7 L480.6,187.0 L480.3,188.3 L480.6,187.9 L480.5,188.8 L480.8,188.4 L480.5,189.8 L481.0,189.1 L480.8,190.2 L481.1,189.8 L480.8,191.2 L481.2,190.5 L481.1,191.4 L481.5,190.7 L481.3,192.0 L481.7,191.4 L481.3,193.0 L481.9,192.0 L481.5,193.5 L482.0,192.7 L481.8,194.0 L482.2,193.4 L481.9,194.8 L482.3,194.2 L481.9,195.8 L482.5,194.7 L482.1,196.2 L482.5,195.6 L482.2,197.1 L482.8,196.1 L482.5,197.4 L482.9,196.8 L482.5,198.5 L483.0,197.7 L482.8,198.8 L483.3,197.9 L482.9,199.7 L483.4,198.7 L483.2,200.0 L483.5,199.7 L483.3,200.8 L483.9,199.8 L483.5,201.4 L484.1,200.2 L483.6,202.3 L484.2,201.3 L483.7,203.1 L484.3,202.0 L483.9,203.9 L484.5,202.6 L484.3,203.7 L484.9,202.6 L484.4,204.8 L485.1,203.3 L484.7,205.1 L485.0,204.7 L484.8,206.1 L485.5,204.6 L485.1,206.4 L485.6,205.6 L485.0,207.7 L485.7,206.3 L485.3,208.1 L486.1,206.4 L485.5,208.8 L486.2,207.3 L485.7,209.6 L486.5,207.7 L486.0,209.9 L486.6,208.7 L486.2,210.4 L486.7,209.5 L486.2,211.7 L487.2,209.4 L486.6,211.8 L487.3,210.2 L486.7,212.7 L487.5,210.9 L487.0,213.1 L487.6,211.9 L487.3,213.5 L487.9,212.4 L487.6,214.0 L488.3,212.5 L487.7,214.8 L488.4,213.4 L487.8,215.8 L488.5,214.4 L487.9,217.0 L489.0,214.3 L488.2,217.4 L488.9,215.9 L488.6,217.7 L489.4,215.8 L489.0,217.8 L489.7,216.3 L488.9,219.4 L490.1,216.6 L489.3,219.6 L489.9,218.5 L489.7,219.8 L490.6,218.0 L490.0,220.4 L490.8,218.8 L490.1,221.7 L491.0,219.7 L490.3,222.5 L491.1,220.8 L490.7,222.9 L491.5,221.0 L490.9,223.9 L491.8,221.5 L491.5,223.5 L492.1,222.2 L491.6,224.7 L492.3,223.2 L491.8,225.8 L492.9,222.9 L492.3,225.5 L493.2,223.6 L492.3,227.2 L493.5,224.1 L492.9,226.9 L493.9,224.6 L493.1,228.1 L494.2,225.1 L493.7,227.8 L494.2,226.8 L493.9,228.6 L494.8,226.7 L494.0,230.0 L494.9,227.9 L494.3,230.7 L495.2,228.5 L495.0,230.3 L495.8,228.4 L495.0,232.0 L496.4,228.0 L495.8,231.0 L496.4,229.9 L495.9,232.3 L496.8,230.3 L496.0,233.8 L497.3,230.2 L496.7,233.2 L497.7,230.7 L496.9,234.4 L498.2,230.7 L497.2,235.3 L498.4,232.1 L497.7,235.6 L499.1,231.5 L498.2,235.7 L499.4,232.5 L498.7,236.2 L499.6,233.7 L499.3,236.1 L499.9,234.7 L499.7,236.9 L500.5,234.7 L500.0,237.9 L501.2,234.5 L500.4,238.7 L501.7,234.8 L500.9,238.9 L502.0,235.8 L501.3,239.5 L502.6,235.9 L501.6,240.6 L502.8,237.3 L502.1,241.1 L503.2,237.9 L503.0,239.8 L504.0,237.1 L503.3,240.8 L504.5,237.5 L503.6,241.6 L504.6,239.1 L503.7,243.3 L505.3,238.7 L504.7,242.0 L505.8,238.7 L504.9,242.9 L506.1,239.9 L504.8,245.2 L506.6,240.0 L505.5,244.6 L507.0,240.3 L505.7,245.7 L506.9,242.5 L505.9,247.0 L507.5,242.2 L506.7,246.0 L507.8,243.1 L507.2,246.2 L508.3,243.3 L507.2,247.7 L508.3,244.9 L507.7,247.9 L508.8,245.2 L507.7,249.8 L509.1,245.9 L508.2,249.6 L509.8,245.3 L508.6,250.2 L509.9,246.6 L509.2,249.9 L510.0,248.1 L509.5,250.3 L510.9,246.5 L509.8,251.1 L511.1,247.9" stroke-width="1.2"/>
<path d="M529.9,105.0 L530.8,100.0 L532.0,108.4 L533.4,101.6 L534.1,109.7 L535.1,101.5 L536.3,108.4 L537.2,101.4 L538.3,104.0" stroke-width="1.45" stroke-linejoin="miter" stroke-miterlimit="6"/>
<path d="M538.5,104.5 L538.2,103.2 L538.5,103.6 L538.4,102.6 L538.7,102.8 L538.6,102.1 L538.9,102.3 L538.8,101.5 L539.1,101.8 L538.9,100.7 L539.2,101.0 L539.0,100.1 L539.4,100.4 L539.3,99.7 L539.5,99.6 L539.4,98.9 L539.7,99.2 L539.5,98.1 L539.7,98.3 L539.6,97.5 L539.9,97.6 L539.8,97.0 L540.0,97.0 L540.0,96.3 L540.2,96.5 L540.1,95.6 L540.3,95.6 L540.3,95.1 L540.5,95.1 L540.4,94.4 L540.6,94.5 L540.5,93.7 L540.8,93.8 L540.7,93.0 L540.9,93.1 L540.8,92.5 L541.0,92.5 L541.0,91.8 L541.1,91.8 L541.1,91.2 L541.2,91.0 L541.2,90.5 L541.4,90.5 L541.3,89.9 L541.5,89.8 L541.5,89.3 L541.6,89.0 L541.6,88.5 L541.7,88.5 L541.7,87.9 L541.8,87.7 L541.8,87.3 L541.9,87.1 L541.9,86.6 L542.0,86.4 L542.0,85.9 L542.1,85.7 L542.1,85.2 L542.2,85.1 L542.2,84.6 L542.3,84.4 L542.3,84.0 L542.4,83.7 L542.5,83.3 L542.6,83.1 L542.6,82.7 L542.7,82.4 L542.7,82.0 L542.8,81.8 L542.9,81.4 L543.0,81.1 L543.1,80.7 L543.1,80.4 L543.2,80.0 L543.3,79.6 L543.4,79.2 L543.5,78.8 L543.6,78.3 L543.7,77.9 L543.8,77.5 L543.9,77.2 L544.0,76.8 L544.2,76.5 L544.3,76.3 L544.4,76.1 L544.5,75.9 L544.6,75.8 L544.7,75.8 L544.9,75.9 L545.0,76.0 L545.1,76.2 L545.3,76.4 L545.4,76.7 L545.6,77.0 L545.7,77.3 L545.9,77.7 L546.0,78.0 L546.2,78.4 L546.3,78.9 L546.5,79.3 L546.6,79.7 L546.7,80.1 L546.8,80.4 L546.9,80.8 L547.0,81.1 L547.1,81.4 L547.2,81.7 L547.3,82.0 L547.3,82.4 L547.4,82.7 L547.5,83.0 L547.6,83.3 L547.6,83.6 L547.7,84.0 L547.8,84.3 L547.8,84.6 L547.9,84.9 L548.0,85.3 L548.0,85.6 L548.1,85.9 L548.2,86.2 L548.2,86.6 L548.3,86.9 L548.3,87.2 L548.4,87.6 L548.5,87.9 L548.5,88.2 L548.6,88.6 L548.6,88.9 L548.7,89.2 L548.7,89.5 L548.8,89.9 L548.8,90.2 L548.9,90.5 L548.9,90.9 L549.0,91.2 L549.0,91.5 L549.1,91.9 L549.1,92.2 L549.2,92.5 L549.2,92.9 L549.3,93.2 L549.3,93.6 L549.3,93.9 L549.4,94.2 L549.4,94.6 L549.5,94.9 L549.5,95.2 L549.6,95.6 L549.6,95.9 L549.6,96.2 L549.7,96.6 L549.7,96.9 L549.8,97.2 L549.8,97.6 L549.9,97.9 L549.9,98.2 L549.9,98.6 L550.0,98.9 L550.0,99.2 L550.1,99.6 L550.1,99.9 L550.2,100.2 L550.2,100.6 L550.2,100.9 L550.3,101.2 L550.3,101.5 L550.4,101.9 L550.4,102.2 L550.4,102.5 L550.5,102.9 L550.5,103.2 L550.6,103.5 L550.6,103.9 L550.7,104.2 L550.7,104.5 L550.7,104.9 L550.8,105.2 L550.8,105.5 L550.8,105.9 L550.9,106.2 L550.9,106.5 L551.0,106.9 L551.0,107.2 L551.0,107.5 L551.1,107.8 L551.1,108.2 L551.1,108.5 L551.2,108.8 L551.2,109.2 L551.2,109.5 L551.3,109.8 L551.3,110.2 L551.4,110.5 L551.4,110.8 L551.4,111.2 L551.5,111.5 L551.5,111.8 L551.5,112.2 L551.6,112.5 L551.6,112.8 L551.6,113.2 L551.7,113.5 L551.7,113.8 L551.7,114.2 L551.8,114.5 L551.8,114.8 L551.8,115.2 L551.9,115.5 L551.9,115.8 L551.9,116.2 L552.0,116.5 L552.0,116.8 L552.0,117.2 L552.0,117.5 L552.1,117.8 L552.1,118.2 L552.1,118.5 L552.2,118.8 L552.2,119.2 L552.2,119.5 L552.3,119.8 L552.3,120.1 L552.3,120.5 L552.4,120.8 L552.4,121.1 L552.4,121.5 L552.5,121.8 L552.5,122.1 L552.5,122.5 L552.6,122.8 L552.6,123.1 L552.6,123.5 L552.7,123.8 L552.7,124.1 L552.7,124.5 L552.8,124.8 L552.8,125.1 L552.8,125.5 L552.9,125.8 L552.9,126.1 L552.9,126.5 L553.0,126.8 L553.0,127.1 L553.0,127.5 L553.1,127.8 L553.1,128.1 L553.1,128.5 L553.2,128.8 L553.2,129.1 L553.2,129.5 L553.3,129.8 L553.3,130.1 L553.3,130.5 L553.4,130.8 L553.4,131.1 L553.5,131.5 L553.5,131.8 L553.5,132.1 L553.6,132.4 L553.6,132.8 L553.6,133.1 L553.7,133.4 L553.7,133.8 L553.8,134.1 L553.8,134.4 L553.8,134.8 L553.9,135.1 L553.9,135.4 L554.0,135.8 L554.0,136.1 L554.1,136.4 L554.1,136.8 L554.1,137.1 L554.2,137.4 L554.2,137.8 L554.3,138.1 L554.3,138.4 L554.4,138.7 L554.4,139.1 L554.4,139.4 L554.5,139.7 L554.5,140.1 L554.6,140.4 L554.6,140.7 L554.7,141.1 L554.7,141.4 L554.8,141.7 L554.8,142.1 L554.9,142.4 L554.9,142.7 L555.0,143.0 L555.0,143.4 L555.0,143.7 L555.1,144.0 L555.1,144.4 L555.2,144.7 L555.2,145.0 L555.3,145.4 L555.3,145.7 L555.4,146.0 L555.4,146.4 L555.5,146.7 L555.5,147.0 L555.6,147.3 L555.6,147.7 L555.7,148.0 L555.7,148.3 L555.8,148.7 L555.8,149.0 L555.9,149.3 L555.9,149.7 L556.0,150.0 L556.0,150.3 L556.1,150.7 L556.1,151.0 L556.2,151.3 L556.2,151.6 L556.3,152.0 L556.4,152.3 L556.4,152.6 L556.5,152.9 L556.5,153.3 L556.6,153.6 L556.6,154.0 L556.7,154.3 L556.7,154.6 L556.8,154.9 L556.8,155.3 L556.9,155.6 L556.9,156.0 L557.0,156.2 L557.0,156.6 L557.1,156.9 L557.1,157.3 L557.2,157.5 L557.2,158.0 L557.3,158.2 L557.3,158.6 L557.4,158.8 L557.4,159.3 L557.5,159.5 L557.6,159.9 L557.6,160.2 L557.7,160.6 L557.8,160.8 L557.8,161.2 L557.9,161.4 L557.9,162.0 L558.0,162.2 L558.0,162.6 L558.1,162.8 L558.1,163.3 L558.2,163.5 L558.2,163.9 L558.3,164.1 L558.3,164.6 L558.4,164.7 L558.4,165.3 L558.5,165.4 L558.5,165.9 L558.7,165.9 L558.6,166.6 L558.8,166.6 L558.7,167.3 L558.9,167.3 L558.9,167.9 L559.0,168.0 L558.9,168.7 L559.1,168.7 L559.0,169.3 L559.2,169.2 L559.1,170.0 L559.3,170.0 L559.2,170.7 L559.4,170.6 L559.4,171.2 L559.6,171.2 L559.5,171.9 L559.7,171.9 L559.6,172.6 L559.8,172.5 L559.7,173.2 L559.9,173.1 L559.8,174.0 L560.0,173.9 L559.9,174.7 L560.1,174.6 L560.1,175.2 L560.3,175.1 L560.2,175.9 L560.4,175.9 L560.4,176.4 L560.5,176.5 L560.5,177.1 L560.7,177.0 L560.6,177.8 L560.8,177.7 L560.6,178.7 L560.9,178.3 L560.8,179.2 L561.0,179.2 L560.9,180.1 L561.1,179.9 L561.0,180.6 L561.3,180.4 L561.1,181.4 L561.5,180.9 L561.2,182.1 L561.7,181.4 L561.4,182.7 L561.7,182.2 L561.6,183.3 L561.9,182.7 L561.7,184.0 L562.1,183.4 L561.8,184.8 L562.1,184.2 L561.9,185.4 L562.3,184.7 L562.1,185.8 L562.5,185.3 L562.3,186.4 L562.5,186.4 L562.3,187.4 L562.8,186.5 L562.5,187.9 L562.9,187.5 L562.7,188.4 L563.1,187.8 L562.9,189.1 L563.2,188.6 L562.9,190.1 L563.3,189.3 L563.0,190.8 L563.5,190.0 L563.2,191.4 L563.6,190.8 L563.4,191.9 L563.9,191.1 L563.6,192.4 L564.1,191.7 L563.6,193.5 L564.1,192.7 L563.9,193.9 L564.2,193.5 L564.1,194.5 L564.5,193.7 L564.3,195.0 L564.8,194.1 L564.4,195.6 L564.8,195.1 L564.6,196.2 L564.9,195.9 L564.6,197.4 L565.1,196.4 L564.8,198.1 L565.4,196.7 L565.0,198.5 L565.4,197.9 L565.1,199.4 L565.8,197.9 L565.4,199.6 L565.8,199.2 L565.5,200.8 L566.1,199.4 L565.8,200.9 L566.2,200.4 L565.9,201.8 L566.6,200.4 L566.2,202.1 L566.7,201.2 L566.4,202.8 L566.9,201.9 L566.5,203.7 L567.1,202.6 L566.8,204.0 L567.4,202.9 L566.7,205.5 L567.5,203.9 L567.1,205.6 L567.8,204.2 L567.4,206.0 L567.8,205.5 L567.4,207.1 L568.1,205.6 L567.7,207.7 L568.2,206.8 L567.8,208.6 L568.7,206.7 L568.3,208.4 L568.9,207.3 L568.2,210.0 L569.0,208.4 L568.5,210.6 L569.5,208.2 L568.8,211.1 L569.6,209.4 L569.2,211.3 L569.8,210.1 L569.3,212.4 L570.0,211.0 L569.7,212.7 L570.4,211.1 L569.8,213.8 L570.8,211.3 L570.2,213.9 L571.0,212.2 L570.4,214.8 L571.2,212.9 L570.8,214.9 L571.4,214.0 L571.0,215.9 L571.8,214.2 L571.4,216.1 L572.0,215.0 L571.8,216.4 L572.4,215.3 L572.1,217.1 L572.5,216.5 L572.1,218.7 L572.8,217.1 L572.4,219.2 L573.3,217.1 L572.9,219.2 L573.6,217.6 L573.1,220.2 L574.1,217.7 L573.2,221.4 L574.2,218.9 L573.7,221.2 L574.6,219.3 L574.2,221.4 L574.9,220.0 L574.5,222.0 L575.1,220.9 L574.5,223.6 L575.6,220.7 L574.9,223.7 L576.0,221.0 L575.4,223.8 L576.1,222.6 L575.5,225.1 L576.5,222.9 L575.8,225.8 L576.6,224.1 L576.1,226.5 L577.0,224.5 L576.7,226.3 L577.3,225.0 L576.8,227.7 L577.6,225.8 L577.0,228.7 L578.1,225.8 L577.8,228.0 L578.5,226.4 L578.0,229.0 L578.8,227.1 L578.2,230.1 L579.4,226.7 L578.7,230.4 L579.9,227.0 L579.0,231.2 L579.9,228.9 L579.6,230.9 L580.5,228.8 L580.0,231.5 L580.8,229.5 L580.3,232.4 L581.4,229.3 L580.6,233.1 L581.9,229.7 L581.0,233.8 L581.8,231.9 L581.2,235.1 L582.3,232.1 L581.9,234.5 L582.6,232.9 L582.3,235.3 L583.4,232.1 L582.8,235.3 L584.0,232.1 L583.3,235.6 L584.4,232.5 L583.3,237.5 L584.4,234.7 L584.1,236.6 L584.7,235.4 L584.3,238.1 L585.3,235.5 L584.5,239.5 L585.6,236.3 L585.0,239.7 L586.2,236.2 L585.9,238.4 L586.9,235.9 L586.0,240.2 L587.0,237.5 L586.6,240.2 L587.4,238.2 L587.2,240.2 L588.1,237.7 L587.4,241.6 L588.4,239.0 L588.0,241.6 L589.3,237.6 L588.4,242.2 L589.5,239.3 L589.0,242.2 L589.7,240.8" stroke-width="1.2"/>
<path d="M634.5,98.4 L634.8,94.3 L635.6,102.2 L635.9,94.8 L636.5,102.6 L637.1,94.5 L637.7,101.7 L638.1,93.4 L638.8,102.8 L639.2,94.8 L639.9,102.4 L640.4,93.9 L641.0,101.8 L641.2,94.0 L641.7,103.2 L642.4,94.0" stroke-width="1.4" stroke-linejoin="miter" stroke-miterlimit="6"/>
<path d="M642.5,94.3 L642.3,93.2 L642.6,93.7 L642.4,92.7 L642.6,92.8 L642.4,91.9 L642.8,92.5 L642.5,91.3 L642.8,91.5 L642.6,90.7 L642.9,91.0 L642.7,90.1 L643.0,90.4 L642.8,89.4 L642.9,89.4 L642.9,88.8 L643.1,89.1 L642.9,88.0 L643.2,88.4 L643.0,87.6 L643.2,87.5 L643.1,86.8 L643.2,86.8 L643.1,86.0 L643.3,86.2 L643.2,85.4 L643.4,85.6 L643.3,84.9 L643.5,85.0 L643.4,84.2 L643.6,84.2 L643.5,83.5 L643.6,83.6 L643.5,82.8 L643.7,82.9 L643.6,82.2 L643.7,82.1 L643.7,81.6 L643.8,81.5 L643.8,81.0 L643.9,80.8 L643.8,80.2 L643.9,80.2 L643.9,79.6 L644.0,79.6 L643.9,78.8 L644.1,78.9 L644.0,78.3 L644.1,78.2 L644.0,77.6 L644.1,77.5 L644.1,76.9 L644.2,76.8 L644.2,76.3 L644.2,76.1 L644.2,75.6 L644.3,75.4 L644.3,74.9 L644.3,74.7 L644.3,74.3 L644.4,74.1 L644.4,73.6 L644.5,73.4 L644.5,73.0 L644.5,72.7 L644.5,72.3 L644.6,72.1 L644.6,71.7 L644.7,71.4 L644.7,71.0 L644.8,70.7 L644.8,70.4 L644.8,70.1 L644.9,69.7 L644.9,69.4 L645.0,69.1 L645.0,68.7 L645.1,68.4 L645.2,68.0 L645.3,67.6 L645.4,67.1 L645.5,66.7 L645.6,66.3 L645.7,65.9 L645.8,65.5 L645.9,65.1 L646.0,64.8 L646.2,64.5 L646.3,64.3 L646.4,64.1 L646.5,64.0 L646.6,63.9 L646.7,63.9 L646.8,64.0 L646.9,64.1 L647.0,64.3 L647.1,64.6 L647.2,64.9 L647.3,65.2 L647.4,65.5 L647.5,65.9 L647.6,66.3 L647.7,66.7 L647.8,67.1 L647.9,67.6 L647.9,68.0 L648.0,68.4 L648.1,68.8 L648.2,69.2 L648.2,69.6 L648.3,69.9 L648.3,70.3 L648.4,70.6 L648.4,70.9 L648.5,71.3 L648.5,71.6 L648.6,71.9 L648.6,72.2 L648.7,72.6 L648.7,72.9 L648.7,73.2 L648.8,73.6 L648.8,73.9 L648.9,74.2 L648.9,74.5 L648.9,74.9 L649.0,75.2 L649.0,75.5 L649.0,75.9 L649.1,76.2 L649.1,76.5 L649.1,76.9 L649.1,77.2 L649.2,77.5 L649.2,77.9 L649.2,78.2 L649.3,78.5 L649.3,78.9 L649.3,79.2 L649.3,79.5 L649.4,79.9 L649.4,80.2 L649.4,80.6 L649.4,80.9 L649.5,81.2 L649.5,81.6 L649.5,81.9 L649.5,82.2 L649.6,82.6 L649.6,82.9 L649.6,83.2 L649.6,83.6 L649.7,83.9 L649.7,84.2 L649.7,84.6 L649.7,84.9 L649.8,85.2 L649.8,85.6 L649.8,85.9 L649.9,86.2 L649.9,86.6 L649.9,86.9 L649.9,87.2 L650.0,87.6 L650.0,87.9 L650.0,88.2 L650.0,88.6 L650.1,88.9 L650.1,89.2 L650.1,89.6 L650.2,89.9 L650.2,90.2 L650.2,90.6 L650.2,90.9 L650.3,91.2 L650.3,91.6 L650.3,91.9 L650.4,92.2 L650.4,92.6 L650.4,92.9 L650.4,93.2 L650.5,93.6 L650.5,93.9 L650.5,94.2 L650.5,94.6 L650.6,94.9 L650.6,95.2 L650.6,95.6 L650.6,95.9 L650.7,96.2 L650.7,96.6 L650.7,96.9 L650.7,97.2 L650.8,97.6 L650.8,97.9 L650.8,98.2 L650.8,98.6 L650.9,98.9 L650.9,99.2 L650.9,99.6 L650.9,99.9 L651.0,100.2 L651.0,100.6 L651.0,100.9 L651.0,101.2 L651.1,101.6 L651.1,101.9 L651.1,102.2 L651.1,102.6 L651.2,102.9 L651.2,103.2 L651.2,103.6 L651.2,103.9 L651.3,104.2 L651.3,104.6 L651.3,104.9 L651.3,105.2 L651.4,105.6 L651.4,105.9 L651.4,106.2 L651.4,106.6 L651.5,106.9 L651.5,107.2 L651.5,107.6 L651.5,107.9 L651.6,108.2 L651.6,108.6 L651.6,108.9 L651.6,109.2 L651.7,109.6 L651.7,109.9 L651.7,110.2 L651.7,110.6 L651.8,110.9 L651.8,111.2 L651.8,111.6 L651.8,111.9 L651.9,112.2 L651.9,112.6 L651.9,112.9 L651.9,113.2 L652.0,113.6 L652.0,113.9 L652.0,114.2 L652.0,114.6 L652.1,114.9 L652.1,115.2 L652.1,115.6 L652.1,115.9 L652.2,116.2 L652.2,116.6 L652.2,116.9 L652.2,117.2 L652.3,117.6 L652.3,117.9 L652.3,118.2 L652.4,118.6 L652.4,118.9 L652.4,119.2 L652.4,119.6 L652.5,119.9 L652.5,120.2 L652.5,120.6 L652.6,120.9 L652.6,121.2 L652.6,121.6 L652.6,121.9 L652.7,122.2 L652.7,122.5 L652.7,122.9 L652.8,123.2 L652.8,123.5 L652.8,123.9 L652.8,124.2 L652.9,124.5 L652.9,124.9 L652.9,125.2 L653.0,125.5 L653.0,125.9 L653.0,126.2 L653.1,126.5 L653.1,126.9 L653.1,127.2 L653.2,127.5 L653.2,127.9 L653.2,128.2 L653.3,128.5 L653.3,128.9 L653.3,129.2 L653.4,129.5 L653.4,129.9 L653.4,130.2 L653.4,130.5 L653.5,130.9 L653.5,131.2 L653.6,131.5 L653.6,131.9 L653.6,132.2 L653.7,132.5 L653.7,132.9 L653.7,133.2 L653.8,133.5 L653.8,133.9 L653.8,134.2 L653.9,134.5 L653.9,134.9 L653.9,135.2 L654.0,135.5 L654.0,135.8 L654.0,136.2 L654.1,136.5 L654.1,136.8 L654.1,137.2 L654.2,137.5 L654.2,137.8 L654.3,138.2 L654.3,138.5 L654.3,138.8 L654.4,139.2 L654.4,139.5 L654.4,139.8 L654.5,140.2 L654.5,140.5 L654.6,140.8 L654.6,141.2 L654.6,141.5 L654.7,141.8 L654.7,142.2 L654.7,142.5 L654.8,142.8 L654.8,143.2 L654.9,143.5 L654.9,143.8 L654.9,144.1 L655.0,144.5 L655.0,144.8 L655.0,145.2 L655.1,145.5 L655.1,145.9 L655.2,146.1 L655.2,146.5 L655.3,146.8 L655.3,147.2 L655.3,147.4 L655.4,147.9 L655.4,148.1 L655.5,148.5 L655.5,148.8 L655.5,149.2 L655.6,149.4 L655.6,149.9 L655.7,150.1 L655.7,150.5 L655.8,150.8 L655.8,151.2 L655.9,151.3 L655.8,151.9 L655.9,152.0 L655.9,152.5 L656.0,152.7 L656.0,153.2 L656.1,153.3 L656.1,153.9 L656.2,154.0 L656.2,154.6 L656.3,154.7 L656.3,155.3 L656.4,155.3 L656.4,155.8 L656.5,155.9 L656.5,156.5 L656.6,156.6 L656.5,157.3 L656.7,157.2 L656.6,157.9 L656.8,157.8 L656.7,158.5 L656.9,158.6 L656.8,159.3 L657.0,159.1 L656.9,159.8 L657.0,160.0 L657.0,160.6 L657.2,160.5 L657.1,161.2 L657.3,161.1 L657.1,162.0 L657.3,161.9 L657.3,162.6 L657.5,162.5 L657.4,163.2 L657.6,163.2 L657.5,163.8 L657.7,163.7 L657.6,164.6 L657.8,164.3 L657.6,165.4 L657.9,165.1 L657.8,165.8 L657.9,165.9 L657.9,166.5 L658.1,166.3 L658.0,167.3 L658.3,167.0 L658.1,167.8 L658.4,167.6 L658.1,168.8 L658.4,168.5 L658.4,169.1 L658.6,168.8 L658.4,169.9 L658.7,169.7 L658.5,170.8 L658.9,170.1 L658.6,171.5 L658.9,171.0 L658.8,172.0 L659.0,171.8 L658.9,172.6 L659.3,172.1 L659.1,173.2 L659.3,172.9 L659.1,174.0 L659.4,173.7 L659.3,174.5 L659.6,174.2 L659.3,175.5 L659.8,174.7 L659.5,176.0 L659.8,175.6 L659.6,176.8 L660.0,176.3 L659.7,177.5 L660.1,176.9 L659.8,178.3 L660.2,177.7 L660.2,178.4 L660.5,177.8 L660.3,179.1 L660.6,178.6 L660.4,179.9 L660.8,179.3 L660.5,180.7 L660.9,180.0 L660.6,181.3 L661.1,180.5 L660.9,181.8 L661.3,181.1 L661.1,182.3 L661.5,181.7 L661.1,183.3 L661.6,182.4 L661.3,183.8 L661.8,182.9 L661.3,185.0 L662.0,183.6 L661.5,185.6 L662.1,184.3 L661.9,185.6 L662.2,185.1 L662.0,186.4 L662.3,186.1 L662.0,187.5 L662.7,186.0 L662.1,188.4 L662.7,187.1 L662.5,188.4 L663.0,187.6 L662.7,189.0 L663.2,188.0 L662.7,190.3 L663.4,188.8 L662.8,191.0 L663.4,189.8 L663.0,191.6 L663.7,190.3 L663.3,191.9 L664.1,190.3 L663.5,192.6 L664.2,191.1 L663.8,192.9 L664.2,192.4 L663.8,194.3 L664.7,192.1 L664.0,194.8 L664.8,193.2 L664.4,194.8 L664.8,194.3 L664.4,196.1 L665.4,193.9 L664.9,196.1 L665.5,194.8 L665.0,197.0 L665.7,195.6 L665.3,197.6 L666.0,196.1 L665.7,197.7 L666.1,197.1 L665.9,198.5 L666.5,197.5 L666.1,199.3 L667.0,197.3 L666.2,200.6 L667.2,198.2 L666.7,200.5 L667.5,199.0 L667.0,201.3 L667.7,199.8 L667.2,202.4 L668.2,199.9 L667.5,202.8 L668.4,201.0 L668.0,203.0 L668.7,201.6 L668.2,204.0 L669.2,201.6 L668.5,204.7 L669.5,202.4 L669.1,204.6 L669.9,202.6 L669.3,205.7 L670.3,202.9 L669.7,205.9 L670.4,204.7 L669.9,207.2 L670.6,205.5 L670.5,206.8 L671.3,205.1 L670.6,208.2 L671.5,206.2 L671.3,207.7 L672.0,206.3 L671.3,209.5 L672.6,206.2 L671.9,209.3 L672.6,207.8 L672.1,210.6 L673.2,207.6 L672.6,210.4 L673.2,209.2 L673.0,211.0 L673.7,209.6 L673.2,212.0 L674.0,210.2 L673.8,211.8 L674.7,209.4 L673.9,213.3 L674.6,211.6 L674.2,214.1 L675.1,211.9 L674.7,214.1 L675.7,211.7 L674.9,215.2 L676.3,211.5 L675.6,214.9 L676.2,213.7 L676.0,215.4 L676.7,213.7 L676.3,216.0 L677.1,214.1 L676.6,216.9 L677.8,213.6 L676.7,218.5 L678.0,215.1 L677.4,217.9 L678.6,214.7 L677.6,219.2 L679.0,215.3 L678.2,219.2 L678.9,217.5 L678.7,219.5 L679.4,217.7 L678.9,220.7 L680.1,217.4 L679.6,220.2 L680.6,217.5 L679.6,221.9 L680.8,218.8 L680.2,222.0 L681.2,219.2 L680.4,223.0 L681.6,219.7 L680.7,224.1 L682.1,219.9 L681.4,223.5 L682.6,220.1 L681.6,224.5 L682.6,221.9 L682.0,225.3 L683.5,220.8 L682.5,225.4 L683.7,222.1 L683.1,225.0 L683.7,223.8 L683.4,226.0 L684.7,222.2 L683.9,226.2 L684.7,224.3 L683.9,228.1 L685.5,223.4 L684.1,229.4 L685.7,224.5 L685.1,227.7 L686.0,225.5 L684.9,230.4 L686.3,226.4 L685.9,228.7 L687.1,225.3 L685.7,231.5 L687.4,226.3 L686.6,230.2 L687.8,226.9 L687.0,230.6 L687.8,228.6 L687.4,230.9 L688.2,229.2 L687.2,233.8 L689.0,228.4 L687.7,233.8 L689.3,229.3 L688.5,233.1 L689.3,231.2 L688.8,233.8 L690.3,229.6 L689.0,235.0 L690.1,232.3 L689.6,234.9 L690.8,231.7 L690.1,235.2 L690.9,233.2 L690.2,236.6 L691.9,231.6" stroke-width="1.2"/>
<path d="M705.6,99.0 L706.2,95.7 L707.0,102.0 L707.4,95.5 L708.0,103.5 L708.6,94.9 L709.2,103.1 L709.4,94.7 L710.2,102.6 L710.5,94.4 L711.1,103.0 L711.6,95.4 L712.4,95.0" stroke-width="1.4" stroke-linejoin="miter" stroke-miterlimit="6"/>
<path d="M712.6,95.5 L712.3,94.3 L712.6,94.7 L712.4,93.7 L712.7,94.0 L712.6,93.2 L712.7,93.1 L712.6,92.4 L712.9,92.7 L712.7,91.6 L712.9,92.0 L712.8,91.0 L713.0,91.3 L712.9,90.5 L713.1,90.6 L712.9,89.6 L713.2,90.1 L713.0,89.0 L713.3,89.3 L713.2,88.6 L713.3,88.5 L713.2,87.7 L713.4,87.8 L713.3,87.2 L713.5,87.3 L713.4,86.6 L713.6,86.7 L713.5,85.9 L713.7,86.0 L713.5,85.1 L713.7,85.2 L713.7,84.6 L713.8,84.5 L713.7,83.9 L713.9,84.0 L713.8,83.2 L714.0,83.2 L713.9,82.6 L714.0,82.5 L714.0,81.9 L714.1,81.9 L714.0,81.2 L714.2,81.2 L714.1,80.5 L714.2,80.5 L714.2,79.9 L714.3,79.8 L714.2,79.2 L714.3,79.1 L714.3,78.7 L714.4,78.5 L714.4,77.9 L714.5,77.8 L714.5,77.3 L714.6,77.2 L714.5,76.6 L714.6,76.4 L714.6,76.0 L714.7,75.8 L714.7,75.3 L714.8,75.1 L714.7,74.6 L714.8,74.4 L714.9,74.0 L714.9,73.8 L715.0,73.4 L715.0,73.1 L715.1,72.7 L715.1,72.4 L715.2,72.1 L715.3,71.8 L715.3,71.4 L715.4,71.0 L715.5,70.6 L715.6,70.2 L715.7,69.7 L715.8,69.3 L715.9,68.9 L716.0,68.5 L716.1,68.2 L716.2,67.9 L716.4,67.6 L716.5,67.4 L716.6,67.3 L716.7,67.2 L716.8,67.2 L716.9,67.3 L717.0,67.4 L717.1,67.6 L717.2,67.9 L717.3,68.2 L717.4,68.5 L717.5,68.9 L717.6,69.2 L717.7,69.6 L717.8,70.1 L717.9,70.5 L717.9,70.9 L718.0,71.3 L718.1,71.8 L718.2,72.2 L718.2,72.5 L718.3,72.9 L718.3,73.2 L718.4,73.5 L718.4,73.9 L718.5,74.2 L718.5,74.5 L718.5,74.9 L718.6,75.2 L718.6,75.5 L718.7,75.9 L718.7,76.2 L718.7,76.5 L718.8,76.8 L718.8,77.2 L718.8,77.5 L718.9,77.8 L718.9,78.2 L718.9,78.5 L719.0,78.8 L719.0,79.2 L719.0,79.5 L719.0,79.8 L719.1,80.2 L719.1,80.5 L719.1,80.8 L719.2,81.2 L719.2,81.5 L719.2,81.8 L719.2,82.2 L719.2,82.5 L719.3,82.8 L719.3,83.2 L719.3,83.5 L719.3,83.8 L719.4,84.2 L719.4,84.5 L719.4,84.9 L719.4,85.2 L719.5,85.5 L719.5,85.9 L719.5,86.2 L719.5,86.5 L719.5,86.9 L719.6,87.2 L719.6,87.5 L719.6,87.9 L719.6,88.2 L719.7,88.5 L719.7,88.9 L719.7,89.2 L719.7,89.5 L719.7,89.9 L719.8,90.2 L719.8,90.5 L719.8,90.9 L719.8,91.2 L719.9,91.6 L719.9,91.9 L719.9,92.2 L720.0,92.6 L720.0,92.9 L720.0,93.2 L720.0,93.6 L720.1,93.9 L720.1,94.2 L720.1,94.5 L720.2,94.9 L720.2,95.2 L720.2,95.5 L720.3,95.9 L720.3,96.2 L720.3,96.5 L720.4,96.9 L720.4,97.2 L720.4,97.5 L720.4,97.9 L720.5,98.2 L720.5,98.5 L720.5,98.9 L720.6,99.2 L720.6,99.5 L720.6,99.9 L720.7,100.2 L720.7,100.5 L720.7,100.9 L720.7,101.2 L720.8,101.5 L720.8,101.9 L720.8,102.2 L720.9,102.5 L720.9,102.9 L720.9,103.2 L721.0,103.5 L721.0,103.9 L721.0,104.2 L721.1,104.5 L721.1,104.9 L721.1,105.2 L721.2,105.5 L721.2,105.9 L721.2,106.2 L721.2,106.5 L721.3,106.9 L721.3,107.2 L721.3,107.5 L721.4,107.9 L721.4,108.2 L721.4,108.5 L721.5,108.9 L721.5,109.2 L721.5,109.5 L721.6,109.9 L721.6,110.2 L721.6,110.5 L721.7,110.9 L721.7,111.2 L721.7,111.5 L721.8,111.9 L721.8,112.2 L721.8,112.5 L721.8,112.9 L721.9,113.2 L721.9,113.5 L721.9,113.9 L722.0,114.2 L722.0,114.5 L722.0,114.9 L722.1,115.2 L722.1,115.5 L722.1,115.9 L722.2,116.2 L722.2,116.5 L722.2,116.9 L722.3,117.2 L722.3,117.5 L722.3,117.9 L722.4,118.2 L722.4,118.5 L722.4,118.9 L722.5,119.2 L722.5,119.5 L722.5,119.9 L722.6,120.2 L722.6,120.5 L722.6,120.8 L722.7,121.2 L722.7,121.5 L722.7,121.8 L722.8,122.2 L722.8,122.5 L722.8,122.8 L722.9,123.2 L722.9,123.5 L722.9,123.8 L723.0,124.2 L723.0,124.5 L723.0,124.8 L723.1,125.2 L723.1,125.5 L723.2,125.8 L723.2,126.2 L723.2,126.5 L723.3,126.8 L723.3,127.2 L723.3,127.5 L723.4,127.8 L723.4,128.2 L723.4,128.5 L723.5,128.8 L723.5,129.2 L723.5,129.5 L723.6,129.8 L723.6,130.2 L723.6,130.5 L723.7,130.8 L723.7,131.2 L723.8,131.5 L723.8,131.8 L723.8,132.2 L723.9,132.5 L723.9,132.8 L723.9,133.2 L724.0,133.5 L724.0,133.8 L724.0,134.1 L724.1,134.5 L724.1,134.8 L724.2,135.1 L724.2,135.5 L724.2,135.8 L724.3,136.1 L724.3,136.5 L724.3,136.8 L724.4,137.1 L724.4,137.5 L724.5,137.8 L724.5,138.1 L724.5,138.5 L724.6,138.8 L724.6,139.1 L724.6,139.5 L724.7,139.8 L724.7,140.1 L724.8,140.5 L724.8,140.8 L724.8,141.1 L724.9,141.5 L724.9,141.8 L725.0,142.1 L725.0,142.5 L725.0,142.8 L725.1,143.1 L725.1,143.5 L725.2,143.8 L725.2,144.1 L725.2,144.4 L725.3,144.8 L725.3,145.1 L725.4,145.4 L725.4,145.8 L725.4,146.1 L725.5,146.4 L725.5,146.8 L725.6,147.1 L725.6,147.4 L725.6,147.8 L725.7,148.1 L725.7,148.4 L725.8,148.8 L725.8,149.1 L725.8,149.4 L725.9,149.7 L725.9,150.1 L726.0,150.4 L726.0,150.8 L726.1,151.0 L726.1,151.4 L726.1,151.7 L726.2,152.1 L726.2,152.4 L726.2,152.8 L726.3,153.1 L726.3,153.4 L726.4,153.7 L726.4,154.1 L726.5,154.3 L726.5,154.8 L726.6,155.0 L726.6,155.4 L726.7,155.7 L726.7,156.1 L726.7,156.4 L726.7,156.8 L726.8,157.0 L726.8,157.4 L726.9,157.6 L726.9,158.1 L727.0,158.3 L727.0,158.8 L727.1,158.9 L727.1,159.5 L727.2,159.6 L727.1,160.2 L727.3,160.3 L727.2,160.8 L727.4,160.9 L727.3,161.4 L727.5,161.6 L727.4,162.1 L727.5,162.3 L727.5,162.8 L727.6,163.0 L727.6,163.5 L727.7,163.6 L727.7,164.1 L727.8,164.2 L727.8,164.8 L727.9,164.8 L727.8,165.5 L728.0,165.6 L727.9,166.2 L728.1,166.1 L728.0,166.9 L728.2,166.7 L728.1,167.6 L728.3,167.5 L728.2,168.1 L728.4,168.2 L728.3,168.8 L728.5,168.8 L728.4,169.6 L728.6,169.5 L728.5,170.2 L728.7,170.2 L728.6,170.9 L728.9,170.6 L728.8,171.4 L728.9,171.5 L728.8,172.3 L729.1,172.1 L729.0,172.8 L729.2,172.6 L729.0,173.6 L729.3,173.4 L729.2,174.1 L729.5,173.9 L729.2,175.0 L729.5,174.7 L729.4,175.5 L729.7,175.2 L729.6,176.1 L729.7,176.0 L729.7,176.7 L729.8,176.8 L729.8,177.4 L730.0,177.3 L729.8,178.3 L730.2,177.8 L730.0,178.8 L730.2,178.7 L730.1,179.6 L730.4,179.2 L730.2,180.3 L730.5,179.9 L730.3,181.1 L730.6,180.7 L730.5,181.5 L730.7,181.4 L730.5,182.5 L731.0,181.6 L730.7,183.0 L731.1,182.3 L730.9,183.6 L731.3,182.9 L730.9,184.4 L731.3,183.8 L731.1,184.9 L731.5,184.3 L731.3,185.4 L731.6,185.1 L731.5,186.0 L731.8,185.8 L731.5,187.1 L731.9,186.3 L731.6,187.7 L732.0,187.2 L731.9,187.9 L732.2,187.8 L731.9,189.1 L732.3,188.4 L732.2,189.3 L732.6,188.8 L732.3,190.3 L732.6,189.8 L732.4,190.9 L732.8,190.4 L732.6,191.4 L733.0,190.8 L732.7,192.5 L733.2,191.5 L733.0,192.6 L733.4,192.0 L733.0,193.7 L733.6,192.5 L733.3,194.0 L733.8,193.0 L733.5,194.5 L733.8,194.2 L733.5,195.6 L734.2,194.4 L733.8,196.1 L734.3,195.0 L734.0,196.6 L734.6,195.5 L734.2,197.3 L734.8,196.2 L734.3,198.3 L734.9,197.1 L734.7,198.2 L735.2,197.5 L734.7,199.7 L735.2,198.6 L734.9,200.4 L735.4,199.3 L735.1,200.8 L735.9,199.2 L735.3,201.7 L735.9,200.6 L735.5,202.3 L736.3,200.6 L735.8,202.9 L736.5,201.3 L736.2,202.9 L736.8,201.9 L736.3,204.0 L736.9,202.9 L736.6,204.5 L737.3,202.9 L736.8,205.4 L737.5,204.0 L737.1,206.0 L737.9,204.1 L737.3,206.8 L737.9,205.5 L737.7,206.8 L738.2,206.0 L737.9,207.6 L738.5,206.6 L738.3,207.9 L739.0,206.6 L738.5,208.8 L739.1,207.8 L738.9,209.1 L739.4,208.3 L738.9,210.5 L739.8,208.6 L739.2,211.2 L740.1,208.9 L739.4,212.0 L740.1,210.4 L739.8,212.3 L740.5,210.8 L740.3,212.3 L740.7,211.6 L740.4,213.6 L741.0,212.2 L740.7,213.9 L741.4,212.6 L741.0,214.8 L741.8,213.0 L741.5,214.5 L742.3,212.8 L741.8,215.3 L742.4,214.0 L742.1,215.8 L742.6,214.9 L742.3,216.8 L742.9,215.7 L742.8,216.8 L743.4,215.5 L743.0,217.9 L743.9,215.5 L743.1,219.3 L743.9,217.4 L743.6,219.4 L744.3,217.6 L744.2,219.1 L744.9,217.5 L744.4,220.2 L745.1,218.7 L744.7,220.9 L745.4,219.4 L745.0,221.7 L745.9,219.7 L745.3,222.7 L746.4,219.8 L745.7,223.1 L747.0,219.7 L746.5,222.5 L747.3,220.5 L746.7,223.6 L747.6,221.5 L747.0,224.4 L748.0,221.8 L747.3,225.4 L748.2,223.1 L747.8,225.5 L748.9,222.7 L748.4,225.7 L749.0,224.2 L748.5,227.2 L749.4,224.9 L749.0,227.2 L750.1,224.5 L749.4,227.8 L750.7,224.4 L749.7,229.0 L750.7,226.2 L750.2,229.1 L751.4,225.6 L750.7,229.2 L751.8,226.3 L751.3,228.9 L752.0,227.4 L751.5,230.2 L752.6,227.3 L752.0,230.5 L753.1,227.5 L752.1,231.9 L753.4,228.4 L752.4,232.9 L753.7,229.3 L753.0,232.6 L753.8,230.8 L753.6,232.3 L754.6,229.8 L753.7,233.9 L755.0,230.4 L754.2,234.1 L755.1,232.1 L754.8,234.0 L755.9,231.0 L754.8,235.9 L755.9,233.2 L755.5,235.5 L756.3,233.7 L755.9,236.1 L756.9,233.3 L756.2,236.9 L757.5,233.3 L756.8,236.6 L757.4,235.6 L756.8,238.8 L758.3,234.3 L757.2,239.0 L758.3,236.2 L757.7,239.5 L758.6,237.1 L758.1,239.9 L759.3,236.8 L758.8,239.4 L759.9,236.6 L758.6,241.9 L759.8,238.5 L759.1,242.3 L760.2,239.2 L759.5,242.6 L761.1,237.9" stroke-width="1.2"/>
<path d="M191,100 L191,91.8" stroke-width="1.1"/>
<path d="M115.2,303.2 L115.7,303.2 L116.1,303.2 L116.6,303.3 L117.0,303.3 L117.5,303.3 L117.9,303.3 L118.4,303.3 L118.9,303.3 L119.3,303.4 L119.8,303.4 L120.2,303.4 L120.7,303.4 L121.1,303.4 L121.6,303.4 L122.0,303.4 L122.5,303.4 L123.0,303.4 L123.4,303.5 L123.9,303.5 L124.3,303.5 L124.8,303.5 L125.2,303.5 L125.7,303.5 L126.2,303.5 L126.6,303.5 L127.1,303.5 L127.5,303.5 L128.0,303.5 L128.4,303.5 L128.9,303.5 L129.4,303.5 L129.8,303.5 L130.3,303.5 L130.7,303.5 L131.2,303.5 L131.6,303.5 L132.1,303.5 L132.5,303.5 L133.0,303.4 L133.5,303.4 L133.9,303.4 L134.4,303.4 L134.8,303.4 L135.3,303.3 L135.7,303.3 L136.2,303.3 L136.7,303.3 L137.1,303.2 L137.6,303.2 L138.0,303.2 L138.5,303.2 L138.9,303.1 L139.4,303.1 L139.8,303.1 L140.3,303.0 L140.8,303.0 L141.2,303.0 L141.7,303.0 L142.1,302.9 L142.6,302.9 L143.0,302.9 L143.5,302.9 L143.9,302.9 L144.4,302.8 L144.9,302.8 L145.3,302.8 L145.8,302.8 L146.2,302.8 L146.7,302.8 L147.1,302.8 L147.6,302.8 L148.1,302.8 L148.5,302.8 L149.0,302.8 L149.4,302.9 L149.9,302.9 L150.3,302.9 L150.8,302.9 L151.2,303.0 L151.7,303.0 L152.2,303.0 L152.6,303.0 L153.1,303.1 L153.5,303.1 L154.0,303.1 L154.4,303.2 L154.9,303.2 L155.4,303.2 L155.8,303.3 L156.3,303.3 L156.7,303.3 L157.2,303.3 L157.6,303.3 L158.1,303.4 L158.5,303.4 L159.0,303.4 L159.5,303.4 L159.9,303.4 L160.4,303.4 L160.8,303.4 L161.3,303.4 L161.7,303.4 L162.2,303.4 L162.7,303.4 L163.1,303.4 L163.6,303.4 L164.0,303.4 L164.5,303.4 L164.9,303.4 L165.4,303.4 L165.8,303.4 L166.3,303.4 L166.8,303.4 L167.2,303.4 L167.7,303.3 L168.1,303.3 L168.6,303.3 L169.0,303.3 L169.5,303.3" stroke-width="1.35"/>
<path d="M189.3,303.4 L190.0,303.4 L190.6,303.5 L191.3,303.5 L191.9,303.5 L192.6,303.6 L193.2,303.6 L193.9,303.6 L194.5,303.7 L195.2,303.7 L195.8,303.8 L196.5,303.8 L197.1,303.8 L197.8,303.9 L198.4,303.9 L199.1,303.9 L199.7,304.0 L200.4,304.0 L201.0,304.1 L201.7,304.1 L202.3,304.2 L203.0,304.2 L203.6,304.3 L204.3,304.3 L204.9,304.4 L205.6,304.4 L206.2,304.5 L206.9,304.6 L207.5,304.6 L208.2,304.7 L208.8,304.7 L209.5,304.7 L210.1,304.8 L210.8,304.8 L211.4,304.8 L212.1,304.9 L212.7,304.9 L213.4,304.9 L214.0,304.9 L214.7,304.9 L215.3,304.8 L216.0,304.7 L216.6,304.6 L217.3,304.5 L217.9,304.3 L218.6,304.2 L219.2,304.0 L219.8,303.8 L220.4,303.7 L221.1,303.5 L221.7,303.3 L222.3,303.0 L222.9,302.8 L223.5,302.5 L224.1,302.2 L224.7,301.8 L225.2,301.5 L225.8,301.1 L226.3,300.7 L226.7,300.3 L227.1,299.9 L227.5,299.4 L227.9,298.9 L228.2,298.3 L228.6,297.8 L228.9,297.2 L229.2,296.6 L229.6,296.0 L229.9,295.4 L230.2,294.8 L230.6,294.2 L231.0,293.7 L231.4,293.2 L231.8,292.7 L232.2,292.2 L232.6,291.7 L233.1,291.2 L233.6,290.7 L234.1,290.3 L234.6,290.0 L235.1,289.6 L235.7,289.3 L236.3,289.0 L237.0,288.8 L237.6,288.7 L238.2,288.7 L238.9,288.8 L239.5,288.8 L240.2,288.9 L240.8,289.1 L241.5,289.2 L242.1,289.3 L242.7,289.5 L243.4,289.6 L244.0,289.8 L244.6,290.0 L245.2,290.3 L245.8,290.5 L246.4,290.8 L247.0,291.0 L247.6,291.3 L248.3,291.5 L248.9,291.8 L249.5,292.0 L250.1,292.2 L250.7,292.5 L251.3,292.7 L251.9,292.9 L252.5,293.1 L253.2,293.3 L253.8,293.5 L254.4,293.8 L255.0,294.0 L255.6,294.2 L256.2,294.4 L256.8,294.6 L257.5,294.9 L258.1,295.1 L258.7,295.3 L259.3,295.5" stroke-width="1.35"/>
<path d="M296.4,303.6 L297.0,303.6 L297.5,303.7 L298.1,303.7 L298.7,303.7 L299.2,303.7 L299.8,303.8 L300.4,303.8 L300.9,303.8 L301.5,303.8 L302.1,303.8 L302.7,303.8 L303.2,303.8 L303.8,303.8 L304.4,303.8 L304.9,303.8 L305.5,303.8 L306.1,303.8 L306.7,303.8 L307.3,303.7 L307.8,303.7 L308.4,303.7 L309.0,303.6 L309.6,303.6 L310.2,303.5 L310.7,303.4 L311.3,303.4 L311.8,303.3 L312.4,303.2 L312.9,303.1 L313.4,303.0 L313.9,302.7 L314.3,302.3 L314.8,301.9 L315.2,301.4 L315.5,301.0 L315.8,300.5 L316.0,300.1 L316.2,299.5 L316.4,299.0 L316.5,298.4 L316.7,297.9 L316.9,297.3 L317.0,296.7 L317.2,296.2 L317.4,295.6 L317.5,295.1 L317.7,294.5 L317.9,294.0 L318.1,293.4 L318.2,292.9 L318.4,292.3 L318.5,291.7 L318.7,291.2 L318.9,290.6 L319.1,290.1 L319.3,289.6 L319.5,289.1 L319.7,288.6 L320.0,288.1 L320.2,287.6 L320.5,287.1 L320.9,286.5 L321.2,285.9 L321.6,285.4 L322.0,284.9 L322.4,284.4 L322.8,284.0 L323.3,283.7 L323.7,283.5 L324.1,283.4 L324.6,283.5 L325.1,283.7 L325.6,284.0 L326.1,284.3 L326.6,284.7 L327.1,285.1 L327.5,285.4 L327.9,285.8 L328.3,286.2 L328.7,286.6 L329.1,287.1 L329.4,287.5 L329.8,288.0 L330.1,288.5 L330.5,288.9 L330.9,289.4 L331.2,289.8 L331.6,290.3 L332.0,290.7 L332.4,291.1 L332.8,291.4 L333.2,291.8 L333.7,292.1 L334.1,292.4 L334.6,292.7 L335.1,293.0 L335.6,293.3 L336.1,293.6 L336.6,293.8 L337.1,294.1 L337.6,294.4 L338.1,294.6 L338.7,294.9 L339.2,295.1 L339.7,295.4 L340.2,295.6 L340.7,295.8 L341.2,296.1 L341.7,296.3 L342.3,296.6 L342.8,296.8 L343.3,297.0 L343.8,297.2 L344.3,297.5 L344.9,297.7 L345.4,297.9 L345.9,298.1 L346.5,298.3 L347.0,298.5" stroke-width="1.35"/>
<path d="M375.6,302.6 L376.3,302.6 L376.9,302.6 L377.6,302.6 L378.2,302.5 L378.9,302.5 L379.5,302.5 L380.2,302.4 L380.8,302.4 L381.5,302.3 L382.1,302.3 L382.8,302.2 L383.4,302.2 L384.1,302.1 L384.8,301.9 L385.5,301.8 L386.2,301.6 L386.9,301.4 L387.5,301.2 L388.0,301.0 L388.5,300.7 L388.9,300.4 L389.3,300.0 L389.6,299.5 L389.9,298.9 L390.2,298.2 L390.4,297.5 L390.7,296.9 L390.9,296.2 L391.1,295.6 L391.4,295.0 L391.6,294.4 L391.7,293.7 L391.9,293.1 L392.1,292.5 L392.3,291.9 L392.4,291.2 L392.6,290.6 L392.8,290.0 L392.9,289.3 L393.1,288.7 L393.3,288.1 L393.4,287.4 L393.6,286.8 L393.8,286.1 L393.9,285.5 L394.1,284.9 L394.2,284.2 L394.4,283.6 L394.5,282.9 L394.7,282.3 L394.8,281.7 L395.0,281.0 L395.2,280.4 L395.4,279.8 L395.6,279.2 L395.8,278.6 L396.0,278.0 L396.3,277.4 L396.5,276.7 L396.8,275.9 L397.2,275.2 L397.5,274.5 L397.9,273.9 L398.3,273.4 L398.7,273.0 L399.1,272.8 L399.6,272.8 L400.1,272.9 L400.7,273.1 L401.4,273.4 L402.0,273.7 L402.7,274.1 L403.3,274.4 L403.8,274.8 L404.3,275.1 L404.8,275.5 L405.2,276.0 L405.7,276.5 L406.1,277.0 L406.5,277.5 L406.9,278.1 L407.3,278.6 L407.7,279.2 L408.1,279.7 L408.6,280.2 L409.0,280.7 L409.4,281.2 L409.8,281.7 L410.2,282.2 L410.6,282.8 L411.0,283.3 L411.4,283.8 L411.8,284.3 L412.2,284.8 L412.6,285.3 L413.1,285.8 L413.5,286.2 L414.0,286.7 L414.5,287.1 L414.9,287.5 L415.5,287.9 L416.0,288.3 L416.5,288.7 L417.0,289.1 L417.6,289.4 L418.1,289.8 L418.7,290.2 L419.2,290.5 L419.8,290.9 L420.3,291.2 L420.9,291.6 L421.4,291.9 L422.0,292.3 L422.6,292.6 L423.1,292.9 L423.7,293.2 L424.3,293.6 L424.8,293.9 L425.4,294.2" stroke-width="1.35"/>
<path d="M456.4,300.6 L457.1,300.6 L457.8,300.5 L458.6,300.4 L459.2,300.3 L459.9,300.2 L460.6,300.1 L461.3,299.8 L462.0,299.5 L462.6,299.1 L463.2,298.7 L463.8,298.3 L464.1,297.8 L464.5,297.3 L464.8,296.7 L465.1,296.1 L465.3,295.4 L465.5,294.7 L465.8,293.9 L466.0,293.2 L466.2,292.5 L466.4,291.8 L466.5,291.1 L466.7,290.5 L466.9,289.8 L467.0,289.1 L467.2,288.4 L467.3,287.7 L467.4,287.0 L467.6,286.3 L467.7,285.6 L467.9,284.9 L468.0,284.2 L468.2,283.5 L468.3,282.9 L468.5,282.2 L468.6,281.5 L468.8,280.8 L468.9,280.1 L469.0,279.4 L469.2,278.7 L469.3,278.0 L469.5,277.3 L469.7,276.6 L469.9,275.9 L470.1,275.2 L470.3,274.6 L470.5,274.0 L470.8,273.3 L471.1,272.5 L471.5,271.7 L471.9,271.0 L472.4,270.4 L472.8,269.9 L473.3,269.6 L473.7,269.5 L474.3,269.7 L474.8,270.0 L475.4,270.4 L476.0,270.9 L476.6,271.5 L477.2,272.1 L477.7,272.6 L478.2,273.1 L478.6,273.6 L479.1,274.2 L479.5,274.8 L479.9,275.3 L480.3,275.9 L480.7,276.5 L481.1,277.1 L481.5,277.7 L481.9,278.3 L482.3,278.9 L482.7,279.5 L483.1,280.1 L483.5,280.7 L483.9,281.2 L484.3,281.8 L484.7,282.4 L485.1,283.0 L485.5,283.6 L485.9,284.2 L486.3,284.7 L486.7,285.3 L487.2,285.8 L487.7,286.3 L488.1,286.8 L488.6,287.3 L489.1,287.8 L489.6,288.3 L490.2,288.7 L490.7,289.2 L491.2,289.7 L491.8,290.1 L492.4,290.6 L493.0,291.0 L493.5,291.5 L494.1,291.9 L494.7,292.3 L495.3,292.6 L495.9,293.0 L496.5,293.4 L497.2,293.7 L497.8,294.0 L498.4,294.3 L499.0,294.6 L499.6,294.8 L500.3,295.1 L500.9,295.4 L501.6,295.6 L502.3,295.8 L502.9,296.1 L503.6,296.3 L504.3,296.5 L505.0,296.7 L505.7,296.8 L506.4,297.0 L507.1,297.2 L507.8,297.3" stroke-width="1.35"/>
<path d="M538.6,298.5 L539.4,298.5 L540.2,298.4 L541.0,298.3 L541.7,298.1 L542.4,298.0 L543.1,297.8 L543.8,297.5 L544.5,297.1 L545.1,296.6 L545.7,296.1 L546.2,295.5 L546.5,295.0 L546.9,294.3 L547.1,293.6 L547.4,292.9 L547.7,292.2 L547.9,291.4 L548.1,290.6 L548.3,289.8 L548.5,289.1 L548.7,288.4 L548.8,287.6 L549.0,286.9 L549.2,286.1 L549.3,285.4 L549.4,284.7 L549.6,283.9 L549.7,283.2 L549.9,282.4 L550.0,281.7 L550.1,280.9 L550.2,280.2 L550.4,279.4 L550.5,278.7 L550.7,277.9 L550.8,277.2 L551.0,276.4 L551.1,275.7 L551.2,274.9 L551.4,274.1 L551.5,273.4 L551.6,272.6 L551.8,271.9 L551.9,271.1 L552.1,270.4 L552.3,269.6 L552.4,268.9 L552.6,268.2 L552.8,267.5 L553.1,266.8 L553.4,266.0 L553.7,265.1 L554.1,264.3 L554.5,263.4 L554.9,262.7 L555.3,262.1 L555.8,261.6 L556.2,261.4 L556.6,261.5 L557.1,261.8 L557.5,262.3 L558.0,263.0 L558.5,263.7 L558.9,264.5 L559.4,265.3 L559.9,266.1 L560.3,266.7 L560.8,267.3 L561.2,267.9 L561.6,268.6 L562.1,269.2 L562.5,269.8 L562.9,270.4 L563.3,271.1 L563.8,271.7 L564.2,272.3 L564.7,272.9 L565.1,273.6 L565.5,274.2 L565.9,274.8 L566.4,275.5 L566.8,276.1 L567.2,276.7 L567.7,277.3 L568.1,277.9 L568.6,278.5 L569.1,279.1 L569.6,279.7 L570.1,280.2 L570.6,280.8 L571.2,281.3 L571.7,281.8 L572.2,282.4 L572.8,282.9 L573.4,283.4 L573.9,283.9 L574.5,284.4 L575.1,284.9 L575.7,285.4 L576.3,285.9 L576.9,286.4 L577.5,286.9 L578.1,287.3 L578.7,287.8 L579.3,288.2 L579.9,288.6 L580.5,289.1 L581.1,289.5 L581.8,289.9 L582.4,290.3 L583.1,290.7 L583.7,291.1 L584.4,291.5 L585.0,291.9 L585.7,292.3 L586.4,292.6 L587.0,293.0 L587.7,293.4 L588.4,293.7" stroke-width="1.35"/>
<path d="M635.2,304.4 L636.2,304.2 L637.0,303.8 L637.7,303.2 L638.3,302.3 L638.6,301.4 L638.9,300.6 L639.1,299.6 L639.3,298.7 L639.5,297.7 L639.6,296.8 L639.8,295.8 L639.9,294.8 L640.0,293.8 L640.2,292.9 L640.3,291.9 L640.4,291.0 L640.5,290.0 L640.6,289.1 L640.7,288.1 L640.9,287.2 L641.0,286.2 L641.1,285.3 L641.2,284.3 L641.3,283.3 L641.4,282.4 L641.5,281.4 L641.6,280.5 L641.7,279.5 L641.8,278.6 L641.9,277.6 L642.0,276.6 L642.1,275.7 L642.2,274.7 L642.3,273.8 L642.4,272.8 L642.5,271.9 L642.6,270.9 L642.7,269.9 L642.8,269.0 L643.0,268.0 L643.1,267.1 L643.3,266.2 L643.4,265.1 L643.6,264.0 L643.9,262.8 L644.1,261.5 L644.4,260.4 L644.7,259.4 L645.0,258.7 L645.3,258.3 L645.6,258.4 L645.9,258.8 L646.3,259.5 L646.8,260.4 L647.2,261.5 L647.6,262.7 L648.1,263.8 L648.5,264.9 L648.8,265.8 L649.2,266.6 L649.5,267.5 L649.8,268.5 L650.2,269.4 L650.5,270.3 L650.8,271.2 L651.1,272.1 L651.5,273.0 L651.8,273.9 L652.2,274.8 L652.5,275.7 L652.9,276.6 L653.2,277.5 L653.6,278.4 L653.9,279.3 L654.3,280.2 L654.7,281.0 L655.0,281.9 L655.4,282.8 L655.9,283.6 L656.3,284.5 L656.7,285.4 L657.2,286.2 L657.7,287.1 L658.1,287.9 L658.6,288.7 L659.2,289.5 L659.7,290.3 L660.3,291.1 L660.9,291.9 L661.5,292.7 L662.1,293.4 L662.8,294.1 L663.4,294.8 L664.1,295.4 L664.9,295.9 L665.6,296.4 L666.4,296.9 L667.3,297.4 L668.1,297.8 L669.0,298.3 L669.9,298.7 L670.8,299.1 L671.7,299.4 L672.6,299.8 L673.6,300.1 L674.5,300.5 L675.4,300.8 L676.3,301.1 L677.2,301.4 L678.2,301.7 L679.1,301.9 L680.0,302.2 L680.9,302.4 L681.9,302.6 L682.8,302.9 L683.7,303.1 L684.7,303.3 L685.6,303.4 L686.6,303.6" stroke-width="1.35"/>
<path d="M716.9,304.4 L717.8,304.3 L718.7,304.1 L719.4,303.8 L720.1,303.3 L720.7,302.5 L721.2,301.8 L721.5,301.1 L721.8,300.3 L722.1,299.5 L722.3,298.6 L722.5,297.7 L722.7,296.8 L722.8,295.9 L723.0,295.1 L723.1,294.2 L723.3,293.4 L723.4,292.5 L723.5,291.6 L723.6,290.8 L723.7,289.9 L723.8,289.0 L723.9,288.2 L724.0,287.3 L724.1,286.4 L724.2,285.6 L724.3,284.7 L724.4,283.8 L724.5,283.0 L724.6,282.1 L724.7,281.2 L724.8,280.4 L724.9,279.5 L725.0,278.6 L725.1,277.8 L725.2,276.9 L725.3,276.0 L725.4,275.2 L725.6,274.3 L725.7,273.4 L725.8,272.6 L726.0,271.7 L726.1,270.9 L726.3,270.0 L726.5,269.1 L726.7,268.1 L726.9,267.0 L727.2,265.9 L727.5,264.9 L727.8,264.0 L728.1,263.2 L728.5,262.8 L728.8,262.6 L729.2,262.8 L729.6,263.2 L730.0,263.9 L730.5,264.8 L731.0,265.7 L731.4,266.7 L731.9,267.7 L732.4,268.6 L732.8,269.4 L733.2,270.1 L733.6,270.9 L734.0,271.7 L734.4,272.5 L734.8,273.2 L735.2,274.0 L735.6,274.8 L736.0,275.5 L736.4,276.3 L736.9,277.1 L737.3,277.8 L737.7,278.6 L738.1,279.4 L738.6,280.1 L739.0,280.9 L739.4,281.6 L739.9,282.4 L740.3,283.1 L740.8,283.9 L741.3,284.6 L741.7,285.3 L742.2,286.1 L742.7,286.8 L743.2,287.5 L743.7,288.2 L744.2,288.9 L744.7,289.6 L745.3,290.3 L745.8,291.0 L746.4,291.7 L747.0,292.3 L747.6,293.0 L748.2,293.6 L748.8,294.2 L749.4,294.8 L750.1,295.3 L750.8,295.9 L751.5,296.4 L752.2,296.8 L752.9,297.3 L753.7,297.7 L754.4,298.2 L755.2,298.6 L756.0,299.0 L756.8,299.4 L757.6,299.8 L758.4,300.2 L759.1,300.6 L759.9,300.9 L760.7,301.3 L761.5,301.7 L762.3,302.0 L763.1,302.3 L763.9,302.7 L764.7,303.0 L765.6,303.3 L766.4,303.6 L767.2,303.9" stroke-width="1.35"/>
<path d="M169,303.3 L169.2,305.4" stroke-width="0.8"/>
</g>
</g>
<g id="panelB" class="sm">
<text class="big" transform="translate(2.7,416.7) scale(1,1)" font-size="20.3">B</text>
<line x1="64.8" y1="686.8" x2="69.9" y2="686.8" stroke="#000" stroke-width="2.2"/>
<text x="57.7" y="689.1" font-size="10.3" text-anchor="end" >0</text>
<line x1="64.8" y1="634.0" x2="69.9" y2="634.0" stroke="#000" stroke-width="2.2"/>
<text x="57.7" y="636.3" font-size="10.3" text-anchor="end" >20</text>
<line x1="64.8" y1="581.1" x2="69.9" y2="581.1" stroke="#000" stroke-width="2.2"/>
<text x="57.7" y="583.4" font-size="10.3" text-anchor="end" >40</text>
<line x1="64.8" y1="528.3" x2="69.9" y2="528.3" stroke="#000" stroke-width="2.2"/>
<text x="57.7" y="530.6" font-size="10.3" text-anchor="end" >60</text>
<line x1="64.8" y1="475.4" x2="69.9" y2="475.4" stroke="#000" stroke-width="2.2"/>
<text x="57.7" y="477.7" font-size="10.3" text-anchor="end" >80</text>
<line x1="64.8" y1="422.6" x2="69.9" y2="422.6" stroke="#000" stroke-width="2.2"/>
<text x="57.7" y="424.9" font-size="10.3" text-anchor="end" >100</text>
<text transform="translate(28.5,557.0) rotate(-90)" font-size="10.3" text-anchor="middle" >% Aggregation</text>
<text x="5.6" y="703.2" font-size="10" text-anchor="start" >CRP (μg/ml)</text>
<rect x="88.5" y="685.0" width="17.9" height="1.7" fill="#fff" stroke="#000" stroke-width="1.1"/>
<rect x="110.7" y="486.0" width="18.3" height="200.8" fill="#000"/>
<path d="M119.8,464.9 V486.0 M117.1,464.9 H122.5" stroke="#000" stroke-width="1.45" fill="none"/>
<rect x="155.2" y="475.9" width="17.0" height="210.9" fill="#fff" stroke="#000" stroke-width="1.0"/>
<path d="M163.8,462.2 V488.6 M161.1,462.2 H166.5 M161.1,488.6 H166.5" stroke="#000" stroke-width="1.45" fill="none"/>
<rect x="176.5" y="462.2" width="18.2" height="224.6" fill="#000"/>
<path d="M185.8,443.7 V462.2 M183.1,443.7 H188.5" stroke="#000" stroke-width="1.45" fill="none"/>
<rect x="221.0" y="460.1" width="17.4" height="226.7" fill="#fff" stroke="#000" stroke-width="1.0"/>
<path d="M229.8,435.8 V483.4 M227.1,435.8 H232.5 M227.1,483.4 H232.5" stroke="#000" stroke-width="1.45" fill="none"/>
<rect x="242.5" y="449.0" width="18.4" height="237.8" fill="#000"/>
<path d="M251.8,427.9 V449.0 M249.1,427.9 H254.5" stroke="#000" stroke-width="1.45" fill="none"/>
<rect x="287.2" y="449.5" width="17.5" height="237.3" fill="#fff" stroke="#000" stroke-width="1.0"/>
<path d="M295.8,427.9 V470.2 M293.1,427.9 H298.5 M293.1,470.2 H298.5" stroke="#000" stroke-width="1.45" fill="none"/>
<rect x="308.7" y="451.7" width="18.5" height="235.1" fill="#000"/>
<path d="M317.8,427.9 V451.7 M315.1,427.9 H320.5" stroke="#000" stroke-width="1.45" fill="none"/>
<path d="M98.5,674.5 V442.3 H121.4 V457.0" stroke="#000" stroke-width="1.15" fill="none"/>
<text x="108.9" y="443.0" font-size="14.5" text-anchor="middle" >*</text>
<line x1="155.5" y1="436.8" x2="191.4" y2="436.8" stroke="#000" stroke-width="1.4"/>
<text x="174.5" y="429.2" font-size="10" text-anchor="middle" >NS</text>
<line x1="219.2" y1="420.3" x2="255.3" y2="420.3" stroke="#000" stroke-width="1.4"/>
<text x="236.1" y="414.5" font-size="10" text-anchor="middle" >NS</text>
<line x1="289.2" y1="419.0" x2="324.9" y2="419.0" stroke="#000" stroke-width="1.4"/>
<text x="305.7" y="411.5" font-size="10" text-anchor="middle" >NS</text>
<line x1="91.0" y1="692.2" x2="121.9" y2="692.2" stroke="#000" stroke-width="1.4"/>
<text x="101.9" y="705.2" font-size="10" text-anchor="middle" >0.25</text>
<line x1="156.8" y1="692.2" x2="187.6" y2="692.2" stroke="#000" stroke-width="1.4"/>
<text x="170.0" y="705.2" font-size="10" text-anchor="middle" >0.5</text>
<line x1="224.2" y1="693.5" x2="255.3" y2="693.5" stroke="#000" stroke-width="1.4"/>
<text x="238.7" y="705.2" font-size="10" text-anchor="middle" >1.0</text>
<line x1="288.2" y1="692.9" x2="319.0" y2="692.9" stroke="#000" stroke-width="1.4"/>
<text x="301.4" y="705.2" font-size="10" text-anchor="middle" >2.5</text>
<path d="M64.8,421.5 V686.8 H330.4" stroke="#000" stroke-width="2.5" fill="none" stroke-linejoin="miter"/>
</g>
<g id="panelC" class="sm">
<text class="big" transform="translate(406.1,416.8) scale(1,1)" font-size="20.3">C</text>
<line x1="467.6" y1="686.3" x2="473.0" y2="686.3" stroke="#000" stroke-width="2.0"/>
<text x="459.9" y="687.9" font-size="10" text-anchor="end" >0</text>
<line x1="467.6" y1="642.1" x2="473.0" y2="642.1" stroke="#000" stroke-width="2.0"/>
<text x="459.9" y="643.7" font-size="10" text-anchor="end" >200</text>
<line x1="467.6" y1="597.9" x2="473.0" y2="597.9" stroke="#000" stroke-width="2.0"/>
<text x="459.9" y="599.5" font-size="10" text-anchor="end" >400</text>
<line x1="467.6" y1="553.6" x2="473.0" y2="553.6" stroke="#000" stroke-width="2.0"/>
<text x="459.9" y="555.2" font-size="10" text-anchor="end" >600</text>
<line x1="467.6" y1="509.4" x2="473.0" y2="509.4" stroke="#000" stroke-width="2.0"/>
<text x="459.9" y="511.0" font-size="10" text-anchor="end" >800</text>
<line x1="467.6" y1="465.2" x2="473.0" y2="465.2" stroke="#000" stroke-width="2.0"/>
<text x="459.9" y="466.8" font-size="10" text-anchor="end" >1000</text>
<line x1="467.6" y1="421.0" x2="473.0" y2="421.0" stroke="#000" stroke-width="2.0"/>
<text x="459.9" y="422.6" font-size="10" text-anchor="end" >1200</text>
<text transform="translate(414.0,553.1) rotate(-90)" font-size="10.5" text-anchor="middle" >ATP secretion (pmoles)</text>
<text x="421.0" y="705.6" font-size="10.2" text-anchor="start" >CRP (μg/ml)</text>
<rect x="510.5" y="624.4" width="18.5" height="61.9" fill="#000"/>
<path d="M519.6,612.0 V624.4 M516.9,612.0 H522.3" stroke="#000" stroke-width="1.45" fill="none"/>
<rect x="554.0" y="595.7" width="16.2" height="90.6" fill="#fff" stroke="#000" stroke-width="1.0"/>
<path d="M561.8,574.0 V616.2 M559.1,574.0 H564.5 M559.1,616.2 H564.5" stroke="#000" stroke-width="1.45" fill="none"/>
<rect x="573.5" y="530.4" width="17.9" height="155.9" fill="#000"/>
<path d="M582.6,511.0 V530.4 M579.9,511.0 H585.3" stroke="#000" stroke-width="1.45" fill="none"/>
<rect x="616.0" y="551.7" width="16.7" height="134.6" fill="#fff" stroke="#000" stroke-width="1.0"/>
<path d="M624.4,542.8 V558.9 M621.7,542.8 H627.1 M621.7,558.9 H627.1" stroke="#000" stroke-width="1.45" fill="none"/>
<rect x="637.0" y="508.5" width="17.7" height="177.8" fill="#000"/>
<path d="M645.4,483.6 V508.5 M642.7,483.6 H648.1" stroke="#000" stroke-width="1.45" fill="none"/>
<rect x="679.2" y="472.8" width="17.0" height="213.5" fill="#fff" stroke="#000" stroke-width="1.0"/>
<path d="M687.1,438.7 V505.4 M684.4,438.7 H689.8 M684.4,505.4 H689.8" stroke="#000" stroke-width="1.45" fill="none"/>
<rect x="699.2" y="469.6" width="17.7" height="216.7" fill="#000"/>
<path d="M708.1,444.0 V469.6 M705.4,444.0 H710.8" stroke="#000" stroke-width="1.45" fill="none"/>
<path d="M501.1,680.3 V601.4 H520.9 V606.2" stroke="#000" stroke-width="0.95" fill="none"/>
<text x="510.9" y="603.1" font-size="14.5" text-anchor="middle" >*</text>
<path d="M561.3,569.8 V499.2 H582.6 V504.3" stroke="#000" stroke-width="0.95" fill="none"/>
<text x="572.6" y="500.9" font-size="14.5" text-anchor="middle" >*</text>
<path d="M624.6,534.6 V469.6 H645.4 V477.2" stroke="#000" stroke-width="0.95" fill="none"/>
<text x="636.2" y="471.4" font-size="14.5" text-anchor="middle" >*</text>
<line x1="679.5" y1="427.2" x2="714.9" y2="427.2" stroke="#000" stroke-width="1.3"/>
<text x="697.2" y="419.8" font-size="10" text-anchor="middle" >NS</text>
<line x1="496.0" y1="690.6" x2="529.0" y2="690.6" stroke="#000" stroke-width="0.8"/>
<text x="508.7" y="705.4" font-size="10" text-anchor="middle" >0.25</text>
<line x1="556.0" y1="690.6" x2="588.4" y2="690.6" stroke="#000" stroke-width="0.8"/>
<text x="573.7" y="705.4" font-size="10" text-anchor="middle" >0.5</text>
<line x1="619.3" y1="691.9" x2="651.7" y2="691.9" stroke="#000" stroke-width="0.8"/>
<text x="634.0" y="705.4" font-size="10" text-anchor="middle" >1</text>
<line x1="681.3" y1="690.6" x2="713.6" y2="690.6" stroke="#000" stroke-width="0.8"/>
<text x="697.2" y="705.4" font-size="10" text-anchor="middle" >2.5</text>
<path d="M467.6,420.0 V686.3 H720.5" stroke="#000" stroke-width="2.6" fill="none"/>
</g>
<g id="panelD" class="sm">
<text class="big" transform="translate(236.1,784.0) scale(1,1)" font-size="20.3">D</text>
<line x1="300.7" y1="1074.5" x2="306.0" y2="1074.5" stroke="#000" stroke-width="2.4"/>
<text x="293.3" y="1076.8" font-size="10.4" text-anchor="end" >0</text>
<line x1="300.7" y1="1035.8" x2="306.0" y2="1035.8" stroke="#000" stroke-width="2.4"/>
<text x="293.3" y="1038.1" font-size="10.4" text-anchor="end" >200</text>
<line x1="300.7" y1="996.1" x2="306.0" y2="996.1" stroke="#000" stroke-width="2.4"/>
<text x="293.3" y="998.4" font-size="10.4" text-anchor="end" >400</text>
<line x1="300.7" y1="957.0" x2="306.0" y2="957.0" stroke="#000" stroke-width="2.4"/>
<text x="293.3" y="959.3" font-size="10.4" text-anchor="end" >600</text>
<line x1="300.7" y1="917.6" x2="306.0" y2="917.6" stroke="#000" stroke-width="2.4"/>
<text x="293.3" y="919.9" font-size="10.4" text-anchor="end" >800</text>
<line x1="300.7" y1="878.3" x2="306.0" y2="878.3" stroke="#000" stroke-width="2.4"/>
<text x="293.3" y="880.6" font-size="10.4" text-anchor="end" >1000</text>
<line x1="300.7" y1="839.1" x2="306.0" y2="839.1" stroke="#000" stroke-width="2.4"/>
<text x="293.3" y="841.4" font-size="10.4" text-anchor="end" >1200</text>
<line x1="300.7" y1="800.4" x2="306.0" y2="800.4" stroke="#000" stroke-width="2.4"/>
<text x="293.3" y="802.7" font-size="10.4" text-anchor="end" >1400</text>
<text transform="translate(255.3,937.8) rotate(-90)" font-size="10.5" text-anchor="middle" >P-Selectin (AU)</text>
<text x="250.8" y="1096.0" font-size="10.5" text-anchor="start" >CRP (μg/ml)</text>
<rect x="320.0" y="1048.7" width="14.8" height="25.8" fill="#fff" stroke="#000" stroke-width="1.3"/>
<path d="M327.5,1047.1 V1048.1 M325.2,1047.1 H329.8" stroke="#000" stroke-width="1.2" fill="none"/>
<rect x="338.1" y="1048.1" width="15.9" height="26.4" fill="#000"/>
<path d="M346.0,1047.5 V1048.1 M343.7,1047.5 H348.3" stroke="#000" stroke-width="1.2" fill="none"/>
<rect x="375.3" y="1048.1" width="14.2" height="26.4" fill="#fff" stroke="#000" stroke-width="1.3"/>
<path d="M382.4,1046.5 V1047.5 M380.1,1046.5 H384.7" stroke="#000" stroke-width="1.2" fill="none"/>
<rect x="393.2" y="1036.7" width="15.7" height="37.8" fill="#000"/>
<path d="M401.0,1036.1 V1036.7 M398.7,1036.1 H403.3" stroke="#000" stroke-width="1.2" fill="none"/>
<rect x="430.4" y="1029.7" width="14.4" height="44.8" fill="#fff" stroke="#000" stroke-width="1.3"/>
<path d="M437.4,1020.7 V1029.1 M434.9,1020.7 H439.9" stroke="#000" stroke-width="1.5" fill="none"/>
<rect x="448.0" y="1007.5" width="15.7" height="67.0" fill="#000"/>
<path d="M455.6,1000.7 V1007.5 M453.1,1000.7 H458.1" stroke="#000" stroke-width="1.5" fill="none"/>
<rect x="485.3" y="970.4" width="14.4" height="104.1" fill="#fff" stroke="#000" stroke-width="1.3"/>
<path d="M492.3,948.8 V969.7 M489.8,948.8 H494.8" stroke="#000" stroke-width="1.5" fill="none"/>
<rect x="502.4" y="917.9" width="15.9" height="156.6" fill="#000"/>
<path d="M510.4,899.8 V917.9 M507.9,899.8 H512.9" stroke="#000" stroke-width="1.5" fill="none"/>
<rect x="539.6" y="941.4" width="14.4" height="133.1" fill="#fff" stroke="#000" stroke-width="1.3"/>
<path d="M547.2,903.2 V940.8 M544.7,903.2 H549.7" stroke="#000" stroke-width="1.5" fill="none"/>
<rect x="557.3" y="847.4" width="15.9" height="227.1" fill="#000"/>
<path d="M565.1,818.0 V847.4 M562.6,818.0 H567.6" stroke="#000" stroke-width="1.5" fill="none"/>
<line x1="320.6" y1="1038.3" x2="352.7" y2="1038.3" stroke="#000" stroke-width="1.4"/>
<text x="335.8" y="1029.0" font-size="10.5" text-anchor="middle" >NS</text>
<path d="M382.1,1036.5 V1018.0 H401.0 V1029.0" stroke="#000" stroke-width="1.2" fill="none"/>
<text x="391.4" y="1019.8" font-size="21" text-anchor="middle" >*</text>
<path d="M436.7,1013.3 V980.2 H455.1 V993.6" stroke="#000" stroke-width="1.2" fill="none"/>
<text x="445.0" y="982.8" font-size="21" text-anchor="middle" >*</text>
<path d="M491.5,941.5 V885.7 H509.5 V894.0" stroke="#000" stroke-width="1.2" fill="none"/>
<text x="500.6" y="886.3" font-size="21" text-anchor="middle" >*</text>
<path d="M545.9,896.5 V795.4 H564.6 V810.6" stroke="#000" stroke-width="1.2" fill="none"/>
<text x="554.7" y="797.8" font-size="21" text-anchor="middle" >*</text>
<line x1="319.4" y1="1081.3" x2="351.5" y2="1081.3" stroke="#000" stroke-width="1.5"/>
<text x="335.5" y="1095.0" font-size="10.5" text-anchor="middle" >0</text>
<line x1="374.2" y1="1081.3" x2="406.3" y2="1081.3" stroke="#000" stroke-width="1.5"/>
<text x="390.7" y="1095.0" font-size="10.5" text-anchor="middle" >0.25</text>
<line x1="427.3" y1="1081.3" x2="458.9" y2="1081.3" stroke="#000" stroke-width="1.5"/>
<text x="444.2" y="1095.0" font-size="10.5" text-anchor="middle" >0.5</text>
<line x1="484.0" y1="1081.3" x2="515.8" y2="1081.3" stroke="#000" stroke-width="1.5"/>
<text x="499.9" y="1095.0" font-size="10.5" text-anchor="middle" >1.0</text>
<line x1="537.8" y1="1081.3" x2="569.9" y2="1081.3" stroke="#000" stroke-width="1.5"/>
<text x="553.0" y="1095.0" font-size="10.5" text-anchor="middle" >2.5</text>
<path d="M300.7,799.2 V1074.5 H575.7" stroke="#000" stroke-width="2.7" fill="none"/>
</g>
</svg>
</body></html>
